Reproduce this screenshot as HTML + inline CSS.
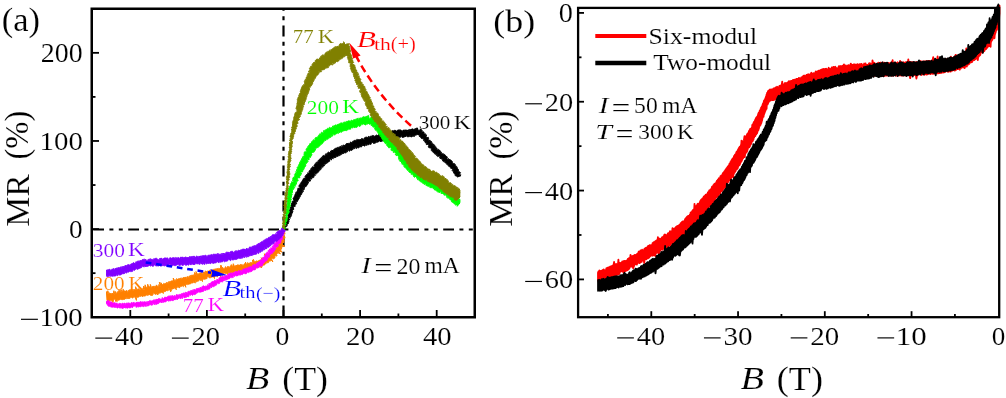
<!DOCTYPE html>
<html><head><meta charset="utf-8"><style>
html,body{margin:0;padding:0;background:#fff;width:1006px;height:398px;overflow:hidden}
svg{display:block;will-change:transform}
</style></head><body>
<svg width="1006" height="398" viewBox="0 0 1006 398">
<line x1="93" y1="229.4" x2="474" y2="229.4" stroke="#000" stroke-width="2" stroke-dasharray="10.8 5.4 4 5.4 4 5.4" stroke-dashoffset="-0.2"/>
<line x1="283.5" y1="10" x2="283.5" y2="316" stroke="#000" stroke-width="2.2" stroke-dasharray="10.8 5.4 4 5.4 4 5.4" stroke-dashoffset="19.4"/>
<defs><clipPath id="cR"><rect x="0" y="0" width="460.3" height="398"/></clipPath><clipPath id="cL"><rect x="106" y="0" width="400" height="398"/></clipPath><clipPath id="cRR"><rect x="597.2" y="0" width="420" height="398"/></clipPath></defs>
<g clip-path="url(#cL)">
<path d="M285.1,229.5 284.2,228.8 285.0,228.8 284.9,228.3 285.9,228.2 284.9,227.2 285.3,226.8 286.3,226.7 286.8,226.3 285.7,225.1 287.5,225.2 286.2,224.0 288.0,224.1 288.4,223.5 288.3,222.8 288.7,222.5 288.9,222.1 289.0,221.6 288.1,220.7 288.8,220.5 287.9,219.7 289.9,219.9 289.1,219.1 288.6,218.4 289.2,218.0 290.5,218.0 289.4,217.0 290.6,216.9 291.2,216.6 290.3,215.6 291.6,215.5 290.9,214.7 291.8,214.4 291.8,213.8 291.9,213.4 292.2,213.0 292.8,212.7 291.2,211.6 292.9,211.7 292.9,211.2 292.4,210.5 292.3,210.0 293.4,209.8 293.5,209.3 294.1,209.0 292.7,208.0 293.5,207.7 293.4,207.1 293.8,206.7 294.7,206.5 295.4,206.2 295.0,205.5 295.4,205.1 295.8,204.7 295.7,204.2 295.8,203.6 296.7,203.5 296.8,203.0 295.7,202.0 296.2,201.6 297.4,201.7 297.0,200.9 298.0,200.8 297.2,199.9 298.5,199.9 298.5,199.4 298.9,199.0 299.2,198.5 298.6,197.7 299.5,197.6 300.0,197.2 299.9,196.6 300.5,196.3 300.3,195.6 300.3,195.1 301.2,195.0 301.4,194.6 301.7,194.1 301.1,193.3 302.1,193.3 301.3,192.4 302.6,192.5 302.6,192.1 303.0,191.6 303.5,191.2 302.1,189.8 303.8,190.1 304.1,189.7 303.5,188.8 304.6,188.9 303.6,187.8 304.0,187.5 304.9,187.5 304.4,186.7 305.1,186.5 306.0,186.5 306.4,186.2 306.4,185.7 307.0,185.4 307.2,184.9 307.5,184.5 306.6,183.3 308.1,183.9 306.9,182.4 308.6,183.0 308.4,182.2 308.0,181.3 308.5,181.1 309.7,181.3 310.3,181.1 310.7,180.8 309.8,179.4 310.5,179.3 310.7,178.7 311.9,179.1 311.3,177.9 311.4,177.3 313.1,178.0 313.5,177.6 313.8,177.2 313.2,176.1 314.3,176.3 313.9,175.3 314.7,175.3 315.5,175.3 314.6,173.9 314.9,173.5 316.4,174.1 315.8,172.9 316.5,172.9 317.5,173.1 317.8,172.7 316.7,171.1 318.5,172.0 318.7,171.6 319.1,171.3 319.3,170.8 318.6,169.5 320.0,170.2 320.5,169.9 320.8,169.6 319.8,167.9 321.0,168.4 321.7,168.3 321.0,167.0 321.2,166.5 322.9,167.3 321.9,165.7 322.9,166.0 323.9,166.2 324.2,165.8 324.6,165.6 323.6,163.9 324.7,164.3 324.4,163.4 325.8,164.2 326.2,163.8 325.6,162.5 326.8,163.2 326.9,162.6 327.6,162.7 328.0,162.4 328.1,161.7 328.8,161.9 329.0,161.5 329.2,161.1 329.8,161.2 329.5,159.9 329.6,159.2 330.3,159.5 330.6,159.1 331.7,160.0 331.2,158.3 331.7,158.2 332.1,157.9 333.2,158.9 333.1,157.7 333.5,157.4 334.1,157.5 334.9,157.8 335.0,157.0 335.9,157.5 335.5,155.8 336.5,156.6 336.6,155.7 337.6,156.4 338.1,156.4 338.2,155.5 338.8,155.4 339.4,155.6 339.9,155.6 339.8,154.1 340.7,154.9 341.2,154.8 341.4,154.2 341.8,153.8 342.2,153.5 343.0,154.0 343.3,153.5 343.8,153.4 343.8,152.0 344.8,153.1 345.4,153.1 345.6,152.4 346.3,152.6 346.1,151.0 346.8,151.4 347.6,151.8 347.7,150.9 348.0,150.3 348.3,149.8 349.4,151.3 349.9,151.0 349.9,149.9 350.4,149.9 351.1,150.4 351.6,150.4 352.1,150.2 352.1,148.8 353.0,149.7 352.9,147.9 353.6,148.4 354.2,148.5 354.8,148.8 354.8,147.2 355.4,147.6 356.3,148.6 356.7,148.5 356.6,146.6 357.4,147.5 358.1,148.0 358.5,147.8 359.0,147.8 359.3,147.3 359.6,146.7 359.9,146.0 360.7,147.1 361.2,146.9 361.7,146.8 361.9,145.6 362.2,144.8 363.0,146.0 363.3,145.2 364.1,145.9 364.6,146.1 365.1,145.9 365.4,145.2 365.8,144.6 366.6,145.5 366.9,144.8 367.4,144.8 367.9,144.6 368.4,144.7 369.0,144.7 369.2,143.6 369.9,144.2 370.5,144.3 371.0,144.4 371.3,143.6 371.6,142.9 372.0,142.2 372.6,142.6 373.1,142.8 373.7,143.6 374.0,142.9 374.6,143.3 375.1,143.2 375.5,143.1 375.9,142.6 376.2,141.6 376.9,142.6 377.4,142.1 377.9,142.1 378.5,141.9 378.8,140.9 379.5,141.0 380.1,141.0 381.0,141.9 381.2,141.0 381.8,141.3 382.0,140.4 382.7,141.2 383.2,140.9 383.7,140.9 384.0,140.3 384.6,140.5 385.0,139.9 385.5,139.8 386.2,140.4 386.3,138.8 387.3,140.2 387.6,139.5 388.1,139.3 388.8,139.6 389.0,138.6 389.8,139.2 390.3,139.1 390.8,139.0 390.9,137.5 391.7,138.7 392.0,137.7 392.7,138.5 393.0,137.6 393.5,137.9 393.8,137.0 394.3,137.3 394.5,136.1 395.0,136.2 395.5,137.1 396.1,137.2 396.6,137.6 397.1,137.3 397.6,137.4 398.1,136.5 398.6,137.5 399.1,137.0 399.6,137.4 400.1,136.8 400.6,137.4 401.1,136.5 401.6,135.6 402.1,137.3 402.5,137.5 403.0,137.5 403.5,137.1 404.0,137.5 404.5,136.2 405.0,136.9 405.5,136.5 406.0,136.8 406.4,135.5 407.2,136.2 407.9,137.2 408.5,136.6 409.1,136.9 409.6,136.0 410.1,135.4 410.9,137.0 411.4,136.9 411.9,136.8 412.2,135.4 413.0,136.7 413.2,135.2 413.9,136.4 414.4,136.4 414.7,135.5 415.4,135.2 416.1,135.0 416.8,134.8 417.4,134.5 418.3,135.0 418.5,134.1 418.9,133.9 419.3,133.9 419.6,134.0 417.4,128.0 416.9,127.8 416.8,128.5 416.2,128.2 416.3,129.8 415.3,128.4 415.3,130.2 414.3,128.8 414.0,130.0 413.4,129.8 412.8,128.8 412.4,128.9 412.0,128.9 411.6,129.0 411.4,130.7 410.8,129.6 410.3,129.5 409.9,130.2 409.3,129.4 408.8,129.5 408.4,131.0 407.9,131.2 407.2,129.9 406.7,131.1 406.0,129.7 405.7,131.4 405.3,130.0 404.9,129.9 404.5,130.2 404.1,129.9 403.6,130.1 403.2,130.1 402.7,130.7 402.2,131.2 401.7,130.5 401.1,131.1 400.6,129.7 400.1,131.3 399.5,129.8 398.9,129.8 398.3,130.1 397.7,130.0 397.1,130.9 396.5,131.1 395.8,131.0 395.1,130.1 394.4,130.3 394.1,131.3 393.5,130.7 392.9,130.5 392.4,130.6 392.1,131.8 391.4,130.9 391.2,132.4 390.6,132.4 390.2,132.9 389.3,131.5 389.0,132.6 388.3,132.1 387.8,132.4 387.5,133.1 386.8,132.7 386.3,133.1 385.6,132.5 385.4,133.7 384.5,132.6 384.0,132.7 383.6,133.5 383.0,133.2 382.9,134.7 382.0,133.1 381.6,133.5 381.3,134.5 380.6,133.5 380.3,134.1 379.8,133.7 379.7,135.3 379.0,134.0 378.5,134.7 378.1,135.3 377.5,135.5 376.9,135.2 376.3,134.9 375.9,135.5 375.4,135.9 375.0,136.0 374.5,136.0 374.1,136.5 373.4,135.5 372.9,135.3 372.5,135.9 371.9,135.5 371.9,137.5 371.0,136.0 370.6,136.2 370.1,136.4 369.9,137.6 369.0,136.3 368.5,136.4 368.2,137.2 367.7,137.5 367.0,137.0 366.6,137.2 365.9,136.9 365.5,137.3 365.0,137.4 364.5,137.8 364.4,139.3 363.9,139.4 363.2,138.8 362.7,139.1 361.9,138.2 361.5,138.8 361.2,139.7 360.5,139.0 360.2,139.9 359.5,139.7 359.0,139.6 358.4,139.7 357.8,139.3 357.5,140.1 356.8,139.5 356.4,139.8 356.2,140.9 355.5,140.2 355.1,140.5 354.5,140.3 354.5,142.0 353.6,140.8 353.2,141.2 352.7,141.3 352.6,142.8 351.9,142.3 351.6,142.9 350.6,141.8 350.6,143.5 349.8,142.9 349.7,144.1 348.8,143.5 348.2,143.2 347.9,143.9 347.1,143.1 346.9,143.9 346.3,143.6 346.0,144.2 345.9,145.3 345.1,144.7 344.7,145.1 344.4,145.8 343.5,144.8 343.4,145.9 343.0,146.5 341.9,145.3 341.8,146.3 341.6,147.2 340.7,146.5 340.0,146.2 339.7,146.8 339.5,147.6 338.7,147.2 338.3,147.5 337.6,147.3 337.4,148.2 336.8,148.0 336.2,148.1 335.7,148.2 335.2,148.4 334.9,149.0 334.3,148.9 333.9,149.4 333.5,149.8 333.2,150.2 333.0,151.0 331.9,150.1 331.9,151.2 331.0,150.7 330.6,151.0 330.6,152.1 330.4,152.9 329.9,153.1 328.7,151.9 328.2,152.3 327.8,152.6 327.6,153.2 326.9,153.2 327.4,155.0 326.0,153.7 325.5,153.9 325.3,154.6 325.5,155.7 324.9,155.8 324.3,155.7 323.3,155.5 322.8,155.9 322.3,156.2 322.3,157.2 321.8,157.5 321.1,157.6 321.5,158.9 320.3,158.4 319.9,158.8 319.9,159.6 319.2,159.7 318.7,159.9 318.3,160.3 318.3,161.0 318.2,161.5 317.6,161.7 317.4,162.2 316.5,162.1 317.5,163.7 315.8,162.8 315.8,163.4 315.3,163.7 314.8,163.9 315.1,164.9 314.4,165.0 313.9,165.2 314.8,166.7 314.3,167.0 313.6,167.0 312.5,166.7 312.3,167.3 311.8,167.5 312.6,168.9 311.1,168.3 310.8,168.7 311.4,169.9 310.4,169.7 310.3,170.3 309.6,170.4 309.2,170.8 309.0,171.3 309.1,172.0 309.2,172.8 309.0,173.3 307.6,172.8 307.7,173.6 308.1,174.6 307.1,174.5 306.4,174.6 306.1,175.1 306.2,175.8 305.3,175.8 305.0,176.3 305.4,177.3 305.8,178.3 304.7,178.1 303.8,178.1 304.5,179.3 303.1,178.9 303.7,180.0 302.6,179.9 302.2,180.2 303.1,181.5 302.0,181.3 302.0,182.0 301.0,182.1 301.4,183.0 300.6,183.1 300.6,183.7 301.5,184.9 299.6,184.4 301.0,185.7 299.1,185.3 298.9,185.7 298.9,186.3 299.9,187.5 299.5,187.8 299.3,188.3 297.8,188.2 298.1,189.0 297.7,189.5 297.7,190.0 297.2,190.2 298.3,191.3 296.9,191.1 297.1,191.8 296.9,192.2 295.8,192.2 296.7,193.3 295.4,193.2 296.6,194.3 295.0,194.1 295.0,194.7 294.9,195.3 294.7,195.8 294.2,196.1 294.4,196.8 293.7,197.1 294.2,197.9 293.4,198.1 293.1,198.5 292.9,199.0 294.0,200.1 293.7,200.6 293.5,201.0 292.7,201.2 292.0,201.5 292.1,202.1 292.3,202.8 291.6,203.1 291.6,203.7 291.1,204.0 292.3,205.0 291.0,205.1 291.0,205.7 291.4,206.4 291.5,207.0 290.1,207.0 290.5,207.7 290.1,208.1 291.3,209.1 289.5,209.0 289.9,209.6 291.0,210.5 289.1,210.4 289.5,211.1 289.7,211.6 288.6,211.7 288.8,212.3 289.5,213.0 288.5,213.2 288.8,214.0 288.4,214.4 288.0,214.8 287.6,215.3 288.0,216.0 288.5,216.7 287.6,216.9 287.7,217.5 287.0,217.8 287.5,218.5 286.6,218.7 287.6,219.6 286.2,219.5 286.5,220.2 285.8,220.4 286.1,221.0 285.6,221.3 285.8,221.8 285.3,222.2 285.3,222.9 285.0,223.5 285.1,224.2 284.4,224.5 285.8,225.8 284.9,226.0 283.7,226.1 283.9,226.8 283.4,227.1 284.3,228.0 283.4,228.0 283.1,228.2 284.2,229.1Z" fill="#000" stroke="#000" stroke-width="1.0" stroke-linejoin="round"/>
<path d="M417.5,132.0 416.3,133.4 417.6,132.7 417.5,133.3 417.6,133.7 417.9,134.1 418.0,134.6 418.9,134.5 419.8,134.4 419.2,135.8 419.3,136.4 420.0,136.6 420.3,137.1 420.9,137.3 420.9,138.0 421.4,138.4 422.0,138.6 422.7,138.7 423.6,138.7 423.5,139.4 423.9,139.7 423.5,140.6 425.1,140.0 424.9,140.9 424.6,141.7 424.9,142.0 425.2,142.4 425.3,142.9 426.7,142.5 426.2,143.5 426.8,143.7 426.3,144.6 427.3,144.5 428.2,144.5 428.5,144.9 428.9,145.2 428.2,146.5 428.9,146.7 428.7,147.6 429.3,147.7 429.9,148.0 430.6,147.9 431.2,148.1 431.2,148.9 431.3,149.4 431.2,150.3 431.5,150.7 432.9,150.1 432.3,151.4 432.9,151.6 433.0,152.3 433.4,152.6 433.8,153.0 434.2,153.4 434.5,153.7 435.8,153.1 435.4,154.4 435.9,154.6 437.4,153.7 436.5,155.5 437.4,155.3 437.3,156.2 437.7,156.6 438.9,156.1 439.6,156.1 439.9,156.5 439.6,157.7 440.3,157.7 440.2,158.7 441.5,157.9 441.4,158.9 441.7,159.3 443.0,158.7 442.6,159.9 442.5,160.8 442.9,161.1 443.3,161.4 443.7,161.8 444.4,161.7 445.6,161.2 444.9,162.7 445.3,163.1 446.1,162.9 446.7,163.1 446.6,163.9 446.8,164.5 447.4,164.6 448.2,164.4 447.9,165.5 448.3,165.8 449.0,165.8 449.0,166.4 449.3,166.8 450.9,165.9 450.1,167.2 450.6,167.3 450.7,167.8 450.7,168.3 452.0,167.9 451.7,168.8 452.2,169.1 453.5,168.8 452.1,170.4 452.4,170.8 453.9,170.5 453.0,171.7 453.5,171.9 453.5,172.5 453.7,172.9 454.2,173.2 454.2,173.7 454.4,174.1 454.8,174.3 455.7,174.2 455.2,175.4 455.5,175.9 456.6,176.1 456.9,176.4 457.1,176.8 457.4,177.0 460.7,175.8 460.0,175.7 461.1,174.9 459.2,175.0 459.4,174.2 460.5,172.8 459.8,172.0 459.5,171.7 459.1,171.4 458.5,171.3 457.7,171.2 458.9,170.0 458.1,169.8 458.1,169.2 457.8,168.7 457.1,168.5 457.4,167.6 456.4,167.5 456.7,166.6 456.4,166.1 454.8,166.5 455.5,165.1 455.3,164.5 454.6,164.4 454.6,163.7 453.9,163.6 453.2,163.6 452.4,163.7 452.6,162.7 452.5,162.1 452.3,161.5 452.0,161.1 451.5,160.8 451.2,160.4 450.8,160.0 450.1,160.0 450.0,159.4 448.8,159.9 448.8,159.1 448.6,158.6 447.2,159.4 446.8,159.0 447.2,157.8 447.3,156.9 446.9,156.5 446.1,156.6 445.9,156.1 445.6,155.6 445.3,155.1 444.7,155.0 444.5,154.4 443.8,154.4 443.6,153.9 443.2,153.5 442.3,153.8 441.8,153.6 441.4,153.2 441.5,152.3 441.2,151.9 440.2,152.2 440.4,151.2 440.2,150.7 439.9,150.4 438.8,150.7 439.1,149.7 438.6,149.4 437.6,149.7 436.7,149.9 437.0,148.9 437.0,148.1 436.1,148.2 435.4,148.3 436.1,146.9 435.4,146.8 434.4,147.2 435.0,145.9 434.8,145.4 434.4,145.1 433.3,145.4 433.8,144.4 432.2,145.2 433.1,143.8 432.4,143.8 432.2,143.3 431.5,143.2 431.9,142.4 431.7,142.0 431.5,141.5 431.1,141.3 430.6,141.0 429.3,141.3 430.1,140.2 428.9,140.4 428.7,139.9 428.1,139.7 428.7,138.5 428.0,138.4 428.4,137.3 426.6,138.0 426.8,137.2 426.2,137.1 426.1,136.4 426.6,135.2 424.8,136.1 425.9,134.3 425.5,133.8 424.6,133.8 423.5,134.0 424.1,132.7 423.9,132.1 423.4,131.8 422.7,131.7 421.3,132.2 422.2,130.7 422.1,130.2 421.3,130.3 421.4,129.6 420.5,130.0 421.0,129.0 419.6,130.0Z" fill="#000" stroke="#000" stroke-width="1.0" stroke-linejoin="round"/>
<path d="M285.1,229.2 285.0,228.9 284.6,228.5 285.5,228.2 285.5,227.7 283.8,226.9 284.5,226.5 285.2,226.0 285.3,225.5 285.7,224.9 285.5,224.3 285.4,223.6 286.5,223.2 285.3,222.3 285.9,222.0 286.0,221.5 286.8,221.3 286.9,220.8 285.9,220.1 287.5,219.9 285.8,219.1 287.0,218.8 287.4,218.4 287.8,217.9 287.5,217.3 287.3,216.7 287.0,216.1 287.6,215.7 287.2,215.0 287.2,214.5 287.9,214.0 287.7,213.4 289.0,213.2 287.8,212.4 289.3,212.2 289.1,211.7 289.3,211.2 288.1,210.5 289.0,210.1 288.8,209.5 288.4,208.9 289.5,208.6 289.9,208.1 289.5,207.5 290.2,207.0 289.6,206.4 290.5,206.0 290.4,205.4 289.1,204.7 290.3,204.4 290.0,203.8 290.3,203.3 289.3,202.6 290.8,202.3 291.1,201.8 289.4,201.0 290.8,200.7 291.1,200.1 291.6,199.6 290.8,199.0 290.9,198.5 290.9,197.9 290.9,197.4 292.0,197.0 291.1,196.3 292.0,195.9 291.5,195.3 292.0,194.9 292.1,194.4 292.3,193.9 291.4,193.2 292.0,192.9 292.6,192.5 291.6,191.9 292.9,191.7 292.1,191.1 293.0,190.8 292.1,190.0 292.2,189.4 293.5,189.4 292.5,188.5 294.1,188.7 293.9,188.1 293.4,187.3 294.7,187.5 293.9,186.5 294.1,186.0 295.5,186.2 294.7,185.2 295.9,185.1 296.0,184.6 295.1,183.5 296.8,183.7 295.6,182.7 296.9,182.7 295.9,181.7 296.7,181.5 297.1,181.2 298.0,181.0 298.2,180.6 297.9,179.9 297.6,179.2 297.5,178.6 297.7,178.1 298.0,177.7 299.7,177.9 299.9,177.3 299.4,176.5 300.1,176.2 300.0,175.6 300.8,175.3 300.7,174.8 301.1,174.4 301.1,173.9 301.7,173.7 300.5,172.5 301.0,172.3 301.7,172.0 302.6,171.9 302.7,171.4 302.8,170.9 302.2,170.1 303.5,170.1 303.8,169.7 302.3,168.4 304.2,168.7 304.3,168.2 304.5,167.7 304.3,167.1 305.1,166.9 305.4,166.4 304.7,165.6 305.9,165.6 305.9,165.0 305.3,164.1 305.5,163.7 306.5,163.6 306.7,163.1 307.1,162.7 307.3,162.2 307.4,161.7 308.2,161.5 308.1,160.9 307.1,159.8 307.5,159.4 309.1,159.6 309.5,159.2 309.0,158.3 308.9,157.7 309.4,157.3 310.6,157.4 310.8,157.0 310.1,155.9 311.4,156.1 310.3,154.9 311.9,155.3 312.1,154.9 311.6,154.1 311.1,153.3 311.8,153.2 312.1,152.9 312.6,152.5 312.8,152.0 314.0,152.2 313.8,151.4 314.5,151.4 314.7,151.0 314.1,150.1 315.1,150.4 315.3,150.1 315.8,150.0 314.6,148.5 315.5,148.7 315.9,148.5 316.3,148.1 317.0,148.1 316.6,146.9 318.2,147.5 317.3,146.1 318.5,146.7 319.0,146.7 319.3,146.4 319.6,146.0 319.4,145.1 320.3,145.4 320.5,144.9 320.6,144.3 321.4,144.4 321.5,143.8 322.2,143.8 322.5,143.3 323.0,143.1 323.1,142.5 323.5,142.1 323.3,141.1 324.2,141.5 324.0,140.4 324.6,140.3 325.4,140.5 326.0,140.4 325.9,139.5 326.0,138.8 327.2,139.6 327.6,139.3 327.1,137.9 328.2,138.8 328.5,138.5 328.4,137.5 329.4,138.1 329.7,137.7 329.8,137.1 330.5,137.4 330.7,136.8 331.3,136.8 330.8,135.1 331.8,136.0 332.4,136.1 332.9,136.0 332.6,134.4 333.0,134.0 333.6,134.4 334.5,135.1 334.6,134.3 335.3,134.7 335.1,133.0 336.0,134.0 336.5,133.8 336.7,133.2 337.3,133.3 337.7,133.0 338.4,133.5 338.6,132.6 338.7,131.6 339.7,132.8 340.0,132.1 340.4,131.8 341.1,132.2 341.6,132.3 341.7,131.0 342.2,130.9 342.9,131.6 343.0,130.2 343.7,131.0 344.0,130.2 344.8,130.9 345.1,130.4 345.7,130.6 346.3,130.7 346.8,130.5 346.9,129.2 347.7,130.2 348.1,129.7 348.3,128.7 349.0,129.1 349.6,129.3 350.0,128.9 350.7,129.2 350.8,128.0 351.3,127.8 351.6,127.1 352.4,128.1 352.9,127.8 353.3,127.5 353.7,126.8 354.3,127.4 355.0,127.9 355.3,126.9 355.8,127.1 356.5,127.4 357.0,127.3 357.2,126.4 357.7,126.4 358.0,125.4 358.5,125.6 359.3,126.6 359.7,126.4 360.1,125.8 360.6,126.0 360.9,125.2 361.3,124.5 361.8,124.1 362.5,124.6 363.0,124.2 363.6,123.9 364.2,124.1 365.1,125.0 365.7,124.9 366.2,124.7 366.5,123.6 367.2,124.1 367.8,124.1 368.0,123.1 368.8,124.0 369.0,123.0 369.5,123.6 369.8,123.1 370.3,123.7 370.3,122.4 368.4,115.4 368.2,115.5 367.9,115.6 367.6,116.2 367.2,116.0 367.1,117.4 366.3,116.3 365.8,116.5 365.4,117.0 364.8,116.9 364.2,117.0 363.5,116.7 362.9,116.8 362.5,117.4 361.9,117.5 361.6,119.0 360.6,117.7 360.3,118.6 359.6,118.4 358.9,117.9 358.8,119.5 358.4,119.8 357.5,118.3 357.1,118.6 356.8,119.3 356.1,118.7 356.1,120.5 355.2,119.3 354.7,119.5 354.3,119.7 353.7,119.7 353.3,119.9 352.9,120.7 352.4,120.7 351.7,120.3 351.2,120.1 351.1,121.9 350.3,120.9 349.7,120.7 349.6,122.0 348.6,120.7 348.1,120.9 347.8,121.6 347.1,121.2 346.6,121.3 346.5,122.4 346.0,122.6 345.2,121.7 345.0,122.8 344.2,121.9 343.7,122.2 343.6,123.6 343.0,123.5 342.3,122.8 341.7,122.9 341.2,122.9 340.6,123.0 340.2,123.4 339.7,123.5 339.2,124.0 338.9,124.6 338.0,123.9 337.6,124.4 337.1,124.8 336.8,125.4 335.9,124.7 335.4,124.9 335.5,126.5 334.8,125.9 334.1,125.4 333.9,126.4 333.2,126.0 332.6,126.0 332.5,127.0 332.1,127.4 331.7,127.7 331.1,127.6 330.7,128.0 329.8,127.4 329.2,127.4 329.4,129.1 328.6,128.7 327.7,128.2 327.4,128.7 327.0,129.3 326.4,129.4 325.8,129.5 325.6,130.4 324.8,130.1 324.9,131.4 323.6,130.6 323.4,131.2 323.6,132.4 323.3,132.8 322.5,132.7 321.5,132.3 321.1,132.7 321.7,134.4 320.8,134.1 319.8,133.7 320.5,135.4 319.1,134.6 319.1,135.6 318.4,135.6 318.5,136.6 317.7,136.5 318.1,137.8 317.2,137.6 316.2,137.3 315.8,137.7 315.2,137.8 314.9,138.3 315.4,139.6 314.8,139.6 315.0,140.6 313.4,139.7 313.5,140.4 312.8,140.4 313.1,141.3 312.5,141.3 312.6,142.0 311.3,141.8 311.5,142.8 310.8,143.1 310.9,143.9 309.7,143.7 309.6,144.3 309.4,144.8 309.0,145.1 308.6,145.5 308.4,146.0 308.4,146.6 307.6,146.7 308.4,147.9 307.2,147.7 308.2,149.0 306.4,148.6 306.5,149.4 305.9,149.5 306.2,150.3 306.6,151.1 306.4,151.5 306.1,152.0 304.7,151.7 304.4,152.2 304.2,152.6 304.0,153.1 304.3,153.9 304.0,154.4 304.0,155.0 304.4,155.8 303.9,156.2 302.9,156.3 303.4,157.2 302.3,157.2 303.1,158.3 301.9,158.2 302.2,159.0 301.2,159.1 301.7,160.0 301.5,160.5 300.7,160.6 300.9,161.3 300.2,161.6 300.4,162.2 299.6,162.4 299.6,163.0 299.6,163.6 299.0,163.9 298.9,164.4 299.2,165.2 298.4,165.4 298.4,166.0 299.1,166.9 297.6,166.8 297.4,167.2 297.1,167.7 297.4,168.4 297.2,168.9 296.7,169.2 297.7,170.2 296.2,170.0 297.1,171.0 296.9,171.5 296.8,171.9 295.5,171.8 296.3,172.7 296.4,173.3 295.0,173.3 296.2,174.5 294.9,174.5 294.3,174.8 295.0,175.7 294.4,176.1 295.0,176.9 294.2,177.2 293.2,177.3 293.1,177.8 292.8,178.2 292.8,178.8 292.9,179.4 293.5,180.2 292.2,180.1 293.6,181.2 293.5,181.7 293.2,182.1 291.4,181.8 291.5,182.5 291.3,182.9 290.9,183.3 290.7,183.8 290.6,184.2 290.9,185.0 290.1,185.1 291.0,186.1 289.6,186.0 289.3,186.5 289.5,187.2 289.7,187.9 288.7,188.2 288.8,188.9 288.5,189.4 288.2,190.0 288.4,190.6 288.0,191.1 287.9,191.6 288.8,192.3 287.7,192.6 287.9,193.2 288.2,193.8 287.6,194.2 287.6,194.8 287.7,195.3 289.1,196.1 287.2,196.4 288.2,197.0 287.4,197.5 287.5,198.1 287.0,198.5 287.7,199.2 287.6,199.7 286.9,200.1 287.3,200.7 286.9,201.2 287.7,201.8 287.1,202.3 287.3,202.8 287.2,203.3 286.9,203.8 286.6,204.3 288.1,205.1 287.7,205.6 286.2,205.9 286.4,206.5 286.0,206.9 285.9,207.5 287.8,208.3 287.7,208.8 285.9,209.1 285.7,209.5 285.6,210.1 286.7,210.8 285.5,211.1 286.7,211.8 287.3,212.4 285.3,212.5 285.8,213.1 285.2,213.5 285.6,214.2 286.7,215.0 284.9,215.1 286.7,216.1 286.3,216.5 286.1,217.0 285.1,217.3 284.6,217.8 284.4,218.2 284.5,218.8 284.2,219.2 284.0,219.7 285.6,220.5 285.1,220.9 285.4,221.4 285.2,221.8 284.0,222.1 283.5,222.6 284.1,223.4 283.3,223.9 284.3,224.7 284.6,225.4 283.1,225.7 283.5,226.3 283.4,226.9 283.0,227.3 284.2,228.0 282.8,228.1 283.5,228.6 283.4,228.9Z" fill="#00ff00" stroke="#00ff00" stroke-width="1.0" stroke-linejoin="round"/>
<g clip-path="url(#cR)"><path d="M367.2,122.6 367.6,122.7 367.7,123.1 369.0,122.0 369.1,122.7 369.1,123.4 369.2,124.1 369.6,124.4 370.9,123.7 371.2,124.2 371.0,125.4 372.0,125.2 372.6,125.1 372.3,125.9 372.5,126.4 372.7,126.7 374.0,126.2 373.5,127.3 374.6,126.9 374.9,127.4 374.5,128.5 375.0,128.7 374.9,129.5 376.1,129.1 375.5,130.3 376.0,130.6 376.5,130.8 378.0,130.1 377.1,131.6 377.7,131.6 377.6,132.3 377.8,132.7 379.3,132.3 378.2,133.6 379.4,133.3 378.8,134.3 379.1,134.7 379.3,135.2 380.9,134.7 380.7,135.4 380.1,136.4 381.9,135.8 380.9,137.1 381.6,137.3 381.4,138.1 381.9,138.5 382.2,139.0 382.4,139.5 382.6,140.1 383.9,139.7 383.3,140.8 385.0,140.1 383.8,141.6 384.1,142.1 385.1,141.9 384.7,142.9 385.1,143.2 385.3,143.7 386.6,143.4 387.5,143.4 386.4,144.9 386.7,145.4 387.1,145.8 388.4,145.4 387.7,146.7 388.2,147.1 388.6,147.5 388.8,148.0 390.4,147.3 391.0,147.5 391.1,148.1 391.2,148.7 391.0,149.6 391.0,150.3 392.5,149.6 391.9,150.9 393.0,150.6 393.4,150.9 393.4,151.6 393.3,152.5 394.8,151.7 395.2,152.0 394.8,153.0 395.7,152.9 396.3,153.1 395.2,154.7 396.1,154.6 396.6,154.7 396.2,155.7 397.7,155.1 397.8,155.6 397.9,156.1 398.4,156.3 398.7,156.7 398.4,157.5 399.3,157.5 398.6,158.5 398.5,159.2 399.3,159.2 400.3,159.2 399.3,160.4 400.6,160.3 399.9,161.4 401.3,161.0 401.0,161.9 401.8,162.0 401.2,163.1 403.0,162.6 401.8,164.1 403.4,163.6 402.8,164.8 403.8,164.8 404.4,164.9 403.7,166.2 404.2,166.5 404.3,167.1 404.6,167.4 405.3,167.6 405.7,167.9 406.3,168.0 406.1,168.9 406.7,169.1 407.0,169.5 407.1,170.1 407.6,170.4 409.2,169.7 408.8,170.8 408.6,171.6 409.2,171.9 409.4,172.4 410.5,172.0 410.3,173.0 411.2,172.8 411.4,173.4 411.2,174.4 412.4,173.8 413.0,173.9 412.8,175.0 413.2,175.3 413.4,176.0 413.6,176.5 414.1,176.8 414.4,177.3 416.0,176.2 416.1,177.0 416.8,176.9 416.6,178.2 417.0,178.5 417.7,178.5 417.5,179.7 418.4,179.3 418.8,179.8 418.9,180.5 419.4,180.7 420.5,180.0 420.1,181.4 420.6,181.7 422.0,180.6 421.4,182.2 422.4,181.6 422.2,182.7 422.4,183.2 423.3,182.7 423.5,183.7 424.3,183.6 424.4,184.6 425.9,183.2 425.8,184.5 425.9,185.4 426.5,185.6 427.6,184.5 427.3,186.1 427.8,186.2 428.2,186.5 429.0,185.9 429.8,185.3 429.6,186.7 429.8,187.4 430.3,187.4 430.6,187.8 431.1,187.9 431.9,187.4 432.3,187.8 433.0,187.4 433.0,188.5 433.7,188.4 433.8,189.1 434.7,188.5 434.5,190.0 435.7,189.0 435.5,190.3 436.5,189.5 436.4,190.8 436.7,191.3 437.1,191.6 437.6,191.8 438.7,190.8 438.5,192.2 439.2,192.2 439.5,192.8 440.8,191.4 441.2,191.9 440.9,193.3 441.9,192.6 441.7,194.0 442.9,192.8 442.9,193.8 443.3,194.1 443.7,194.3 444.5,194.0 444.2,195.3 444.9,195.0 445.7,194.8 446.2,194.9 446.1,195.8 446.3,196.2 447.5,195.5 446.6,197.3 447.3,197.3 447.8,197.5 447.8,198.3 449.0,197.8 449.2,198.4 450.3,198.1 449.7,199.5 450.7,199.2 450.7,200.0 451.2,200.2 451.2,201.0 451.4,201.5 452.4,201.2 452.1,202.3 452.8,202.1 453.1,202.9 454.2,202.8 454.1,203.9 455.3,203.5 455.2,204.5 455.5,205.2 457.0,204.1 457.0,204.9 457.1,205.4 457.0,206.1 457.2,206.3 461.6,201.0 461.2,201.0 460.5,201.2 460.9,200.1 460.7,199.7 459.4,200.4 459.9,198.9 458.9,199.2 458.5,198.8 457.7,198.7 456.9,198.6 457.6,196.7 457.2,196.7 456.2,197.1 455.6,197.0 456.4,195.6 456.0,195.2 455.7,194.8 454.7,195.0 454.9,194.1 453.5,194.7 454.0,193.3 452.5,194.1 453.2,192.5 452.6,192.2 451.9,192.1 451.2,192.1 451.2,191.1 450.6,190.9 449.8,190.9 449.0,191.0 448.5,190.7 448.8,189.2 447.6,190.1 447.5,189.1 447.4,188.2 446.9,187.8 445.6,188.9 445.9,187.4 445.1,187.7 444.7,187.4 443.9,187.8 443.3,187.8 443.2,186.9 442.6,187.0 442.3,186.5 442.1,185.9 441.3,186.3 441.5,184.9 440.2,186.2 439.9,185.7 440.1,184.4 439.7,184.0 438.9,184.4 438.8,183.5 438.4,183.1 437.8,183.2 437.6,182.6 436.8,182.9 436.2,182.9 435.7,182.7 434.9,183.1 434.8,182.2 434.1,182.4 433.5,182.5 434.0,180.6 433.5,180.3 433.0,180.1 432.5,179.9 431.9,180.1 431.2,180.5 430.5,180.8 430.9,179.1 430.0,179.9 429.3,180.1 429.7,178.5 429.2,178.3 428.1,179.4 427.6,179.3 428.1,177.5 426.7,178.7 426.8,177.5 426.6,177.1 426.5,176.4 426.1,176.3 425.6,176.2 424.5,177.0 424.6,176.0 424.6,175.2 423.7,175.6 423.5,175.1 422.5,175.6 422.3,175.1 422.0,174.5 421.8,174.0 420.8,174.5 420.4,174.1 420.8,172.8 420.7,172.1 419.5,172.8 419.1,172.5 419.5,171.1 419.0,171.0 418.2,171.1 417.3,171.5 418.0,169.9 417.5,169.7 417.2,169.4 417.0,168.9 416.6,168.6 416.3,168.3 415.8,168.1 415.6,167.6 414.7,167.8 413.9,168.0 413.4,167.7 413.0,167.4 413.4,166.4 413.0,166.0 412.4,165.9 411.8,165.8 412.5,164.4 411.5,164.7 411.4,164.1 411.6,163.3 410.0,164.1 410.7,162.8 410.6,162.3 409.1,162.9 409.0,162.4 408.6,162.1 409.3,160.9 409.1,160.5 407.6,161.0 408.1,160.0 407.6,159.8 407.9,159.0 407.3,158.8 407.2,158.3 406.9,157.9 406.8,157.4 405.4,157.7 405.8,156.8 405.8,156.3 405.1,156.1 405.1,155.5 405.2,154.8 404.4,154.7 403.6,154.6 404.1,153.6 403.9,153.1 403.2,152.9 402.4,152.9 403.0,151.7 402.7,151.2 402.3,150.8 400.6,151.4 401.1,150.3 401.1,149.5 400.1,149.6 400.4,148.6 400.0,148.2 398.3,149.1 399.3,147.4 397.7,148.2 397.9,147.3 397.8,146.6 397.2,146.4 396.8,146.1 395.9,146.3 395.6,145.8 396.4,144.4 395.2,144.8 395.1,144.3 395.2,143.6 394.6,143.5 394.8,142.7 393.4,143.4 394.1,142.1 393.8,141.7 393.1,141.5 392.0,141.8 392.6,140.6 392.3,140.2 391.9,139.9 391.7,139.4 391.2,139.2 389.8,139.7 390.7,138.4 390.7,137.7 390.4,137.3 390.2,136.9 389.6,136.7 389.6,136.1 389.1,135.9 389.0,135.4 388.7,135.0 386.9,135.6 388.1,134.2 387.8,133.8 386.5,134.1 385.9,133.9 386.1,133.2 386.7,132.2 385.0,132.7 384.7,132.2 385.1,131.3 385.3,130.6 385.2,130.0 384.4,129.8 384.6,129.0 384.3,128.5 383.5,128.4 382.8,128.2 383.2,127.2 382.9,126.7 382.5,126.3 382.0,126.0 381.4,125.8 380.9,125.5 381.1,124.6 380.6,124.3 380.1,124.0 379.7,123.6 378.5,123.9 378.7,123.0 378.7,122.3 377.4,122.8 378.1,121.4 377.7,121.1 376.8,121.4 377.1,120.4 375.7,121.1 375.6,120.1 375.5,119.1 374.2,119.6 373.4,119.5 373.9,117.8 373.4,117.5 373.0,117.2 371.9,117.9 372.1,116.9 372.0,116.5 371.8,116.3Z" fill="#00ff00" stroke="#00ff00" stroke-width="1.0" stroke-linejoin="round"/></g>
<path d="M284.3,229.0 283.8,228.7 284.0,228.4 285.1,227.9 283.3,227.5 283.4,227.0 284.6,226.5 284.5,225.9 285.1,225.3 284.9,224.8 283.9,224.1 283.8,223.5 284.4,222.9 285.1,222.4 285.1,221.9 283.3,221.4 285.1,221.0 284.7,220.6 285.2,220.1 284.4,219.6 283.8,219.1 285.2,218.7 285.4,218.2 285.3,217.7 285.5,217.2 285.4,216.7 284.3,216.0 285.5,215.6 284.8,215.0 283.9,214.4 284.7,213.9 285.9,213.4 285.7,212.9 286.0,212.5 286.0,212.0 286.0,211.5 284.4,210.9 285.9,210.5 285.7,209.9 286.2,209.5 285.0,208.9 286.3,208.4 286.4,207.9 285.7,207.3 286.3,206.8 286.0,206.3 286.4,205.8 286.6,205.3 285.7,204.7 286.7,204.2 284.9,203.5 286.5,203.1 286.2,202.6 286.5,202.1 287.0,201.6 287.0,201.1 285.7,200.4 286.1,199.9 286.4,199.4 287.2,199.0 287.3,198.4 287.2,197.9 285.4,197.1 285.6,196.6 287.1,196.2 287.1,195.7 287.3,195.2 287.4,194.7 285.9,194.0 287.3,193.6 287.8,193.2 286.7,192.6 287.7,192.2 286.8,191.6 287.2,191.2 287.8,190.8 288.0,190.3 287.0,189.6 288.1,189.3 287.5,188.8 288.4,188.5 288.3,188.2 288.1,187.8 287.7,187.3 288.4,187.0 287.6,186.4 288.5,186.0 287.3,185.3 287.0,184.6 288.4,184.0 289.0,183.1 287.3,182.6 288.2,182.3 288.1,181.9 288.0,181.5 288.3,181.1 288.5,180.7 288.5,180.3 289.3,179.9 289.0,179.4 289.3,179.0 288.7,178.4 289.1,178.0 289.6,177.5 289.4,177.0 289.6,176.5 289.3,176.0 289.0,175.4 289.7,174.9 289.8,174.4 289.7,173.8 289.9,173.3 289.7,172.7 289.3,172.2 289.5,171.6 289.4,171.0 288.8,170.4 288.9,169.9 290.0,169.4 289.6,168.8 288.5,168.1 289.7,167.7 288.9,167.0 290.5,166.6 289.8,166.0 289.8,165.4 290.4,164.9 290.6,164.4 288.9,163.7 289.0,163.1 290.1,162.7 289.0,162.1 290.6,161.7 289.0,161.1 290.9,160.8 291.0,160.3 290.7,159.7 289.9,159.1 291.2,158.7 291.1,158.1 290.1,157.5 291.2,157.1 289.5,156.4 290.7,155.9 290.7,155.3 290.4,154.8 290.4,154.2 291.1,153.7 291.5,153.2 291.3,152.6 290.7,152.0 291.8,151.6 291.5,151.0 290.4,150.3 292.0,149.9 291.7,149.4 291.1,148.8 291.7,148.3 291.9,147.8 290.8,147.1 292.1,146.8 292.3,146.3 291.4,145.7 292.3,145.3 290.9,144.6 292.1,144.3 292.1,143.8 292.6,143.4 291.4,142.8 292.6,142.5 291.6,142.0 292.8,141.7 291.0,141.1 292.0,140.8 291.6,140.4 292.2,140.1 292.2,139.3 293.1,138.7 293.4,138.0 293.2,137.4 292.9,136.7 293.8,136.4 294.0,135.9 293.5,135.4 292.7,134.8 294.0,134.7 293.8,134.2 292.9,133.6 294.8,133.7 294.9,133.3 294.6,132.8 294.6,132.3 295.2,132.0 295.4,131.5 295.1,130.9 295.7,130.5 294.9,129.8 295.1,129.4 296.3,129.1 296.4,128.6 295.9,128.0 295.2,127.4 296.7,127.2 297.0,126.8 297.2,126.3 295.6,125.4 297.4,125.3 295.9,124.4 296.6,124.0 297.3,123.7 298.1,123.4 297.7,122.7 298.2,122.4 297.3,121.6 297.6,121.2 297.6,120.7 298.4,120.5 298.2,119.9 299.4,119.8 299.5,119.3 298.2,118.3 298.8,118.0 299.6,117.7 299.5,117.1 300.0,116.7 300.5,116.3 300.4,115.8 299.4,114.9 300.9,114.8 301.2,114.3 301.3,113.8 301.5,113.3 301.4,112.7 300.9,112.0 301.6,111.7 302.2,111.3 302.2,110.7 301.5,110.0 302.7,109.7 302.8,109.2 302.8,108.6 303.0,108.1 303.0,107.5 302.6,106.8 303.7,106.6 303.1,105.8 303.3,105.4 302.4,104.6 304.4,104.6 304.3,104.0 304.2,103.5 304.4,103.1 305.0,102.8 303.6,102.0 303.6,101.6 305.3,101.6 305.3,100.9 305.7,100.3 305.8,99.8 306.1,99.3 306.2,98.9 306.1,98.4 306.5,98.1 306.6,97.7 305.2,96.8 305.5,96.4 307.1,96.4 306.8,95.8 307.2,95.5 306.6,94.7 307.6,94.6 306.7,93.7 308.1,93.8 308.3,93.3 307.3,92.3 308.7,92.4 308.8,91.9 308.8,91.3 309.2,90.9 308.6,90.1 309.6,90.0 309.6,89.5 309.8,89.0 309.3,88.2 309.0,87.6 309.6,87.3 310.5,87.2 310.3,86.5 310.4,86.0 311.4,85.9 311.5,85.4 312.0,85.1 312.1,84.6 312.3,84.2 311.6,83.3 312.9,83.4 313.1,83.0 312.1,81.9 313.0,81.7 313.6,81.4 314.0,81.0 313.9,80.2 313.9,79.5 314.6,79.3 314.5,78.7 314.1,77.9 315.9,78.1 314.7,77.0 316.2,77.0 315.7,76.3 316.5,76.1 316.7,75.6 316.4,74.9 317.8,75.1 318.1,74.7 317.9,74.2 318.3,74.0 318.7,73.8 318.5,73.3 318.4,72.7 319.4,73.0 318.4,71.6 319.1,71.6 320.3,72.1 319.9,71.1 321.2,71.8 321.6,71.5 320.8,70.1 321.4,70.1 322.0,70.0 322.5,69.9 323.2,70.0 323.4,69.6 324.1,69.8 324.3,69.5 324.6,69.3 324.8,68.9 325.2,68.8 325.0,67.8 325.6,67.9 326.2,68.1 326.7,68.1 326.9,67.4 327.7,67.8 328.3,67.7 328.5,66.8 328.8,66.3 328.9,65.4 329.7,65.7 330.1,65.3 330.2,64.5 331.1,64.9 331.5,64.6 332.5,65.1 332.1,63.6 332.4,63.1 333.7,64.1 334.2,63.9 334.4,63.1 334.4,62.2 335.5,63.0 335.6,62.2 336.0,61.8 336.1,61.0 337.3,61.9 337.4,61.1 338.2,61.4 338.0,60.2 339.1,60.8 338.7,59.4 339.3,59.4 340.2,59.6 339.9,58.3 341.1,59.2 340.6,57.4 342.1,58.6 342.2,57.8 343.0,57.9 343.1,57.1 343.4,56.6 344.3,57.0 344.0,55.6 345.0,56.3 345.0,55.5 345.7,55.9 345.4,54.6 346.5,55.5 347.0,55.2 347.4,55.0 347.9,54.8 347.9,53.7 348.2,53.3 348.4,52.7 349.2,53.4 349.8,53.9 343.6,41.7 344.2,43.5 343.8,43.6 343.1,43.1 342.7,43.6 342.1,43.8 341.4,43.8 340.4,43.5 339.8,43.9 339.4,44.6 339.1,45.3 339.1,46.2 338.5,46.3 338.2,46.9 337.0,46.1 336.8,46.8 336.2,47.0 335.3,46.6 335.2,47.5 334.4,47.2 333.9,47.5 333.9,48.3 333.1,48.1 332.9,48.7 332.3,48.8 332.6,50.1 331.6,49.6 330.9,49.4 330.8,50.2 330.8,51.2 329.6,50.2 329.1,50.5 328.8,50.9 328.5,51.4 327.8,51.2 327.7,52.1 327.8,53.1 326.5,52.1 326.1,52.3 326.0,53.1 325.3,53.0 325.1,53.7 324.8,54.2 324.7,55.0 324.4,55.5 323.6,55.2 322.7,54.7 322.3,55.1 322.0,55.4 322.1,56.5 321.3,56.0 320.8,56.1 320.7,56.8 320.4,57.2 320.2,58.0 319.5,58.0 319.5,59.0 319.1,59.6 318.1,59.2 317.1,59.1 316.4,59.3 316.1,60.0 315.9,60.7 315.1,60.6 315.5,62.0 315.3,62.6 314.0,62.1 313.5,62.5 313.8,63.7 312.7,63.5 312.6,64.3 311.9,64.5 312.1,65.5 312.2,66.5 310.8,66.2 310.4,66.8 310.2,67.5 309.7,68.0 309.4,68.7 310.4,70.0 309.4,70.2 310.3,71.3 308.6,71.2 308.1,71.6 309.6,73.0 309.4,73.5 307.9,73.4 307.8,74.0 307.5,74.4 308.3,75.3 307.4,75.4 306.9,75.6 306.8,76.0 307.8,77.1 306.3,77.0 306.3,77.6 305.9,78.1 307.2,79.3 305.6,79.1 305.2,79.4 305.5,80.2 304.7,80.4 305.3,81.3 304.3,81.4 304.1,81.9 305.0,82.9 304.5,83.3 305.0,84.1 304.4,84.4 303.5,84.6 303.5,85.1 303.1,85.5 302.5,85.8 302.1,86.2 302.0,86.7 301.7,87.2 301.5,87.6 301.9,88.4 301.1,88.6 300.9,89.1 300.9,89.6 301.6,90.5 300.4,90.6 300.2,91.1 300.2,91.7 301.2,92.6 300.2,92.8 299.9,93.3 299.6,93.8 299.0,94.1 299.4,94.8 299.2,95.2 298.6,95.6 298.9,96.1 298.7,96.6 299.8,97.5 297.9,97.5 298.0,98.2 297.5,98.8 297.3,99.5 297.3,99.9 297.7,100.5 297.2,100.8 297.3,101.3 298.9,102.2 296.9,102.2 298.0,103.0 296.8,103.3 297.1,103.9 298.3,104.7 296.6,104.9 297.4,105.6 296.5,105.9 296.5,106.5 298.0,107.4 296.1,107.5 296.0,108.1 296.0,108.6 296.7,109.3 296.6,109.8 297.4,110.6 296.5,110.8 297.2,111.5 297.0,112.0 295.7,112.2 295.3,112.6 295.1,113.1 294.9,113.5 295.0,114.1 294.6,114.5 294.4,115.0 294.6,115.6 295.6,116.4 294.0,116.5 294.3,117.1 293.7,117.4 293.6,117.9 293.7,118.5 293.9,119.1 293.6,119.5 293.4,120.0 293.7,120.6 292.8,120.8 292.8,121.4 292.7,121.9 292.6,122.5 292.3,122.9 293.1,123.7 292.1,124.0 292.9,124.7 292.0,125.0 292.9,125.8 293.0,126.3 292.2,126.6 291.7,127.0 291.6,127.5 292.3,128.2 292.2,128.7 291.4,129.0 291.5,129.5 291.2,130.0 292.2,130.7 291.6,131.1 291.7,131.6 292.5,132.2 291.6,132.4 291.6,132.8 290.9,133.0 291.0,133.4 290.6,133.8 290.4,134.1 291.3,134.9 290.2,135.1 290.4,135.6 290.0,136.1 290.0,136.8 290.6,137.5 291.4,138.4 289.7,138.9 291.4,140.0 289.6,140.1 289.5,140.5 291.4,141.1 290.4,141.4 290.2,141.8 290.6,142.3 289.3,142.6 289.9,143.1 289.4,143.5 289.7,144.0 289.1,144.5 290.2,145.1 289.3,145.5 290.3,146.1 290.3,146.6 288.9,147.0 289.1,147.5 290.4,148.2 289.5,148.6 289.3,149.1 289.8,149.7 289.2,150.2 290.2,150.9 288.6,151.3 289.1,151.9 288.6,152.4 288.9,153.0 288.5,153.5 288.4,154.0 288.2,154.6 288.9,155.2 288.6,155.7 288.2,156.2 288.1,156.8 288.1,157.3 289.7,158.0 288.5,158.4 289.2,159.0 288.0,159.5 288.5,160.0 288.2,160.5 288.2,161.0 287.8,161.5 288.1,162.0 287.7,162.5 289.2,163.1 287.8,163.6 287.6,164.1 287.7,164.7 288.9,165.3 287.3,165.8 287.9,166.4 287.2,166.9 287.4,167.5 289.0,168.2 287.7,168.6 287.1,169.2 287.8,169.8 287.3,170.3 288.7,171.0 287.1,171.4 286.8,172.0 286.8,172.5 288.1,173.2 287.0,173.6 287.0,174.2 288.2,174.8 287.3,175.3 286.8,175.8 286.5,176.2 286.5,176.8 286.4,177.3 286.5,177.8 286.3,178.2 287.2,178.8 287.1,179.3 286.3,179.6 287.2,180.2 287.3,180.6 286.5,181.0 286.8,181.4 286.1,181.8 287.0,182.2 286.4,182.5 287.4,183.0 286.4,183.8 287.6,184.7 286.7,185.2 287.1,185.9 287.0,186.4 286.4,186.7 286.8,187.2 286.8,187.6 286.3,187.9 286.0,188.2 286.0,188.6 287.1,189.2 286.2,189.5 285.6,190.0 286.1,190.6 286.2,191.1 286.0,191.5 286.2,192.0 286.4,192.5 285.0,192.9 285.1,193.4 285.6,194.0 286.7,194.6 284.7,194.9 284.8,195.5 285.6,196.1 284.9,196.6 285.9,197.2 284.8,197.6 285.8,198.3 284.7,198.7 285.5,199.3 286.0,199.9 284.2,200.3 284.6,200.9 285.8,201.5 284.4,201.9 285.4,202.5 284.1,202.9 284.5,203.5 283.9,204.0 285.8,204.7 283.8,205.0 283.8,205.6 283.9,206.1 285.3,206.8 285.3,207.3 283.8,207.7 285.3,208.4 284.9,208.8 284.5,209.3 284.6,209.9 283.6,210.3 285.1,210.9 284.4,211.4 285.0,211.9 283.2,212.2 283.8,212.8 284.3,213.3 284.5,213.9 283.0,214.3 283.0,214.8 283.4,215.4 283.3,216.0 283.0,216.5 283.7,217.0 283.5,217.5 282.7,218.0 282.7,218.5 282.8,219.0 284.5,219.6 284.3,220.1 283.5,220.5 284.4,221.0 284.0,221.4 282.6,221.8 284.0,222.3 282.5,222.9 282.5,223.5 282.5,224.1 284.1,224.8 282.5,225.4 283.1,225.9 282.6,226.5 282.5,227.0 283.3,227.5 282.9,228.0 284.2,228.4 284.3,228.7 283.7,229.0Z" fill="#808000" stroke="#808000" stroke-width="1.0" stroke-linejoin="round"/>
<g clip-path="url(#cR)"><path d="M346.0,44.2 345.3,44.7 344.9,45.1 345.4,45.5 345.4,46.0 345.4,46.5 346.4,46.9 346.0,47.6 345.6,48.3 346.9,48.6 347.0,49.2 347.3,49.7 345.9,50.4 347.3,50.7 346.1,51.4 346.9,51.8 348.0,52.1 346.3,52.8 346.6,53.3 348.0,53.6 347.3,54.3 347.8,54.7 346.7,55.5 347.5,55.9 347.6,56.5 348.6,56.8 347.3,57.7 347.6,58.2 348.0,58.7 347.8,59.3 348.8,59.5 349.2,60.0 348.4,60.7 349.0,61.1 348.7,61.7 348.6,62.3 348.7,62.8 349.9,63.0 350.8,63.3 351.0,63.8 350.1,64.6 349.8,65.2 350.8,65.5 350.1,66.3 350.2,66.8 351.1,67.1 350.7,67.8 350.4,68.5 350.6,69.0 351.0,69.5 351.3,70.0 351.2,70.6 352.7,70.6 351.6,71.7 352.1,72.0 352.2,72.6 353.3,72.7 353.2,73.3 354.1,73.4 353.4,74.3 353.3,74.9 354.3,74.9 353.5,75.8 353.9,76.1 353.7,76.7 353.8,77.1 354.2,77.4 355.4,77.5 354.2,78.4 355.0,78.6 355.6,79.0 355.1,79.8 354.9,80.5 355.1,81.1 355.9,81.3 356.2,81.8 355.7,82.6 356.2,82.9 356.8,83.2 356.3,84.0 356.5,84.5 358.2,84.2 358.4,84.8 358.0,85.5 357.4,86.4 359.0,86.2 358.9,86.9 358.1,87.9 358.2,88.3 360.1,88.0 360.1,88.5 360.1,89.1 360.6,89.4 360.7,90.0 359.3,91.1 360.2,91.3 359.7,92.1 360.1,92.5 361.9,92.3 362.0,92.9 360.7,94.0 361.7,94.1 361.5,94.8 361.6,95.3 361.4,96.1 361.7,96.6 362.0,97.1 362.2,97.6 362.7,97.9 362.8,98.4 364.3,98.0 363.2,99.2 363.4,99.5 364.6,99.4 363.8,100.4 364.3,100.9 364.5,101.4 364.9,101.6 365.5,101.8 365.9,102.0 365.6,102.6 365.0,103.3 365.4,103.6 365.3,104.2 365.5,104.6 365.6,105.1 365.8,105.6 367.1,105.7 366.8,106.4 366.5,107.0 367.5,107.3 366.8,108.1 367.0,108.7 369.0,108.5 369.0,109.1 368.5,110.0 368.7,110.5 368.5,111.3 369.8,111.3 369.8,111.9 369.6,112.7 370.3,112.9 371.2,113.0 370.6,114.0 370.1,114.9 370.3,115.3 370.6,115.8 370.9,116.2 372.7,115.7 372.6,116.4 371.8,117.6 372.0,118.0 373.5,117.7 373.2,118.5 373.0,119.3 373.3,119.7 373.8,120.0 374.4,120.3 374.5,120.8 374.5,121.5 374.9,121.9 376.2,121.6 376.9,121.7 376.1,122.9 376.6,123.2 377.5,123.1 377.4,123.9 377.3,124.6 378.5,124.3 378.9,124.7 379.0,125.2 378.3,126.5 378.7,126.8 379.0,127.2 379.3,127.7 380.0,127.8 381.1,127.6 380.3,128.9 381.7,128.5 381.1,129.6 381.5,130.0 381.7,130.5 383.2,130.0 382.6,131.2 383.0,131.6 382.7,132.5 383.0,132.9 384.1,132.7 384.1,133.4 384.7,133.6 384.4,134.6 385.4,134.4 385.2,135.2 386.1,135.1 385.7,136.1 386.6,136.0 387.2,136.3 386.8,137.4 387.4,137.6 388.0,137.8 389.2,137.4 389.4,137.9 388.6,139.5 389.0,139.9 389.6,140.0 389.8,140.6 390.3,140.8 390.4,141.4 391.0,141.6 391.2,142.1 391.8,142.2 391.8,142.8 393.1,142.2 392.8,143.3 394.2,142.5 393.8,143.6 393.4,144.6 394.5,144.2 395.5,143.9 394.6,145.4 395.1,145.6 395.4,146.0 395.5,146.5 396.3,146.4 396.6,146.8 396.7,147.4 397.6,147.3 397.1,148.3 396.9,149.0 397.3,149.4 397.5,149.8 398.6,149.6 399.3,149.7 399.2,150.4 398.7,151.4 399.1,151.7 399.3,152.2 399.6,152.6 400.3,152.7 400.8,153.0 400.7,153.7 401.3,153.9 401.1,154.7 402.8,154.1 402.2,155.1 402.0,156.0 403.6,155.4 402.7,156.7 404.2,156.1 404.2,156.7 403.3,158.0 403.6,158.3 404.1,158.5 404.0,159.2 404.7,159.3 404.6,160.0 404.9,160.5 405.3,160.8 406.5,160.6 406.5,161.2 406.2,162.0 407.4,161.8 406.4,163.2 407.1,163.3 407.1,164.1 408.0,164.1 408.9,164.0 409.0,164.7 408.3,165.9 409.0,166.1 409.1,166.8 409.3,167.3 409.7,167.8 410.2,168.1 411.1,168.0 411.1,168.8 411.7,169.0 411.6,169.9 412.6,169.7 412.5,170.7 413.3,170.7 413.7,171.1 413.7,171.9 414.8,171.6 414.7,172.5 415.0,173.1 416.4,172.3 416.1,173.6 417.3,173.0 416.8,174.5 417.3,174.8 417.7,175.1 418.0,175.6 418.6,175.7 419.7,175.2 419.6,176.2 419.8,176.7 420.2,177.0 420.4,177.7 421.2,177.3 421.6,177.6 422.4,177.4 422.5,178.6 423.1,179.2 423.8,179.4 424.6,179.6 425.1,180.3 425.9,180.1 426.7,179.7 427.4,179.5 427.3,181.3 427.8,181.3 428.4,181.0 428.5,181.8 428.9,181.8 429.6,181.0 429.5,182.3 430.2,181.7 430.4,182.3 430.9,182.5 432.0,181.3 431.6,183.3 432.9,181.8 432.6,183.5 433.0,183.7 433.7,183.4 433.7,184.3 434.4,184.0 434.5,184.7 435.1,184.5 435.7,184.4 435.6,185.4 436.7,184.4 436.3,185.8 437.1,185.4 438.1,184.7 437.6,186.0 437.6,186.6 438.1,186.7 438.9,186.4 438.7,187.4 439.0,187.8 439.2,188.2 440.0,188.2 440.1,188.9 440.9,188.8 441.3,189.1 441.5,189.8 442.7,189.3 443.3,189.5 442.6,191.1 443.1,191.5 443.7,191.7 444.2,192.0 444.5,192.6 445.6,192.2 445.6,193.3 446.2,193.5 446.6,193.9 447.0,194.4 447.8,194.2 448.3,194.5 448.8,194.7 448.8,195.7 449.4,195.6 449.7,196.2 451.0,195.0 450.4,196.8 450.8,196.8 451.1,197.1 452.3,196.1 452.3,196.6 452.4,197.3 452.9,197.6 454.1,197.0 454.3,197.6 454.1,198.5 454.0,199.4 454.4,199.7 454.9,199.9 456.1,199.3 455.6,200.4 456.7,199.8 456.6,200.4 462.4,194.6 463.3,193.4 462.6,193.5 462.0,193.6 462.5,192.5 462.1,192.2 460.5,192.9 461.4,191.1 460.9,190.6 460.1,190.5 459.5,190.0 459.5,189.0 458.9,188.4 458.4,188.2 456.8,189.3 457.5,187.4 456.9,187.3 455.8,187.9 456.1,186.6 455.7,186.2 455.0,186.3 454.8,185.6 454.1,185.7 453.5,185.7 452.5,186.3 453.0,184.6 452.6,184.4 451.7,184.7 451.4,184.3 451.4,183.6 451.2,183.1 450.9,182.8 450.5,182.7 449.6,183.0 449.3,182.6 448.5,182.8 448.2,182.4 448.5,181.3 447.9,181.2 447.9,180.5 447.6,179.9 447.3,179.5 446.4,179.6 446.0,179.1 446.0,178.3 444.8,178.8 444.5,178.2 444.3,177.4 444.1,176.7 443.5,176.4 442.5,176.7 442.5,175.6 441.1,176.6 441.0,175.6 440.1,176.0 439.4,175.9 439.6,174.4 438.7,174.9 438.8,173.6 437.9,174.2 437.8,173.2 437.3,173.0 436.9,172.5 436.5,172.2 436.1,172.1 434.9,173.3 434.9,172.1 434.6,171.2 434.0,171.0 433.4,170.7 432.4,171.9 432.3,170.7 431.3,171.8 431.1,171.1 430.6,171.1 430.5,170.4 430.2,170.1 429.8,170.2 429.8,169.3 429.5,169.1 428.4,170.4 428.7,168.9 427.3,170.0 427.7,169.0 427.6,168.5 426.7,169.1 426.1,169.2 426.8,167.6 426.0,167.9 426.2,166.9 425.9,166.6 425.1,166.8 424.8,166.6 423.8,167.0 423.8,166.2 423.9,165.3 423.6,164.9 423.2,164.7 422.4,164.8 422.2,164.3 422.0,163.7 420.8,164.4 421.1,163.4 420.6,163.1 420.7,162.4 420.5,161.9 420.1,161.5 419.8,161.2 419.4,161.0 418.7,161.0 418.7,160.5 418.6,160.0 418.3,159.7 418.0,159.4 417.7,159.0 417.2,158.9 417.1,158.4 416.8,158.0 415.4,158.6 415.3,158.0 414.7,157.8 415.6,156.6 415.2,156.2 414.2,156.4 414.6,155.5 413.6,155.6 413.5,155.0 413.6,154.3 413.4,153.8 413.1,153.4 412.5,153.2 412.5,152.6 411.4,152.7 411.1,152.2 411.4,151.3 410.7,151.3 410.6,150.7 410.3,150.2 410.0,149.8 408.7,150.1 409.1,149.2 408.4,149.0 408.2,148.6 407.9,148.1 408.0,147.3 407.5,147.1 407.1,146.7 405.7,147.2 406.6,145.8 405.1,146.3 405.4,145.4 405.6,144.7 404.5,144.8 405.0,143.8 404.5,143.5 404.3,143.0 403.9,142.7 403.2,142.6 403.2,141.9 402.2,142.1 402.5,141.1 400.6,142.0 400.6,141.4 401.2,140.2 400.9,139.7 399.5,140.2 399.3,139.7 399.7,138.4 399.0,138.4 397.7,139.0 398.6,137.3 398.2,137.0 397.4,137.0 397.2,136.5 396.4,136.6 395.7,136.6 395.3,136.3 395.4,135.5 394.8,135.4 395.2,134.3 393.4,135.4 393.4,134.7 394.0,133.4 393.2,133.5 392.6,133.4 392.1,133.2 392.1,132.5 392.0,131.9 390.9,132.2 391.6,130.9 390.1,131.7 391.0,130.2 390.7,129.9 388.9,130.7 389.2,129.9 389.7,128.7 389.4,128.4 388.6,128.4 388.8,127.6 387.5,128.0 387.0,127.7 386.7,127.3 387.3,126.1 386.2,126.3 385.4,126.3 385.4,125.6 386.2,124.4 385.9,124.0 384.6,124.3 385.2,123.1 384.9,122.7 383.4,123.2 384.3,121.9 383.8,121.7 382.4,122.0 383.3,120.8 381.9,121.2 381.7,120.7 382.0,119.8 381.7,119.3 381.8,118.7 380.4,119.0 380.6,118.2 380.5,117.7 379.3,118.0 380.1,116.7 379.3,116.7 379.0,116.2 377.8,116.5 378.7,115.2 378.6,114.7 378.4,114.2 378.1,113.8 377.9,113.4 377.6,113.0 377.0,112.8 375.6,113.1 375.3,112.8 376.3,111.6 375.7,111.4 375.0,111.3 375.0,110.8 374.7,110.5 375.3,109.6 375.1,109.2 373.9,109.3 374.7,108.3 374.4,107.9 373.4,107.8 373.1,107.4 374.0,106.5 373.8,106.0 372.8,105.8 372.0,105.6 372.8,104.7 371.5,104.6 372.8,103.6 372.2,103.3 372.3,102.7 371.4,102.5 371.1,102.0 372.0,101.2 371.1,101.0 369.9,100.9 371.3,99.9 370.6,99.7 370.3,99.2 369.2,99.3 370.3,97.9 370.1,97.2 369.4,96.9 369.1,96.4 369.2,95.7 368.8,95.3 368.3,95.0 368.5,94.4 367.8,94.3 368.0,93.7 367.4,93.5 367.2,93.1 367.4,92.4 366.9,92.3 367.0,91.7 366.8,91.3 365.7,91.2 365.4,90.8 366.2,89.9 366.0,89.4 365.3,89.2 364.4,89.0 365.4,88.0 364.8,87.6 364.8,87.1 364.7,86.5 364.3,86.1 363.1,86.1 363.1,85.5 363.4,84.7 363.1,84.2 361.6,84.3 361.8,83.6 362.3,82.8 360.9,82.9 361.4,82.0 360.6,81.8 360.7,81.2 359.9,81.1 360.4,80.3 360.9,79.6 360.7,79.2 359.8,79.2 360.1,78.5 359.7,78.1 358.7,77.9 359.4,77.2 357.9,77.2 359.5,76.2 357.6,76.3 358.2,75.5 357.8,75.1 358.7,74.2 358.5,73.7 356.6,73.9 357.6,72.9 357.6,72.3 357.3,71.9 355.6,72.1 356.9,70.9 356.7,70.5 356.6,70.0 356.1,69.8 355.6,69.5 355.8,68.8 354.3,68.8 355.6,67.8 354.9,67.5 355.3,66.8 354.0,66.7 354.8,65.8 354.8,65.3 353.7,65.1 353.9,64.5 352.9,64.2 352.6,63.8 352.4,63.3 353.7,62.4 353.3,62.0 353.1,61.5 351.4,61.5 352.9,60.5 352.8,60.0 351.3,59.9 352.7,58.9 352.5,58.4 350.9,58.3 352.1,57.3 351.9,56.9 351.0,56.6 351.2,56.0 351.6,55.4 351.3,55.0 351.1,54.5 349.4,54.4 350.2,53.8 350.6,53.3 349.3,53.0 350.2,52.4 350.3,51.9 350.7,51.3 350.8,50.8 350.4,50.3 349.4,49.8 350.4,49.2 349.6,48.7 350.3,48.0 349.7,47.5 349.3,47.0 349.8,46.3 348.7,45.9 348.7,45.4 348.7,44.9 348.9,44.4 349.5,43.9 348.3,43.8Z" fill="#808000" stroke="#808000" stroke-width="1.0" stroke-linejoin="round"/></g>
<path d="M107.0,300.5 107.3,300.5 107.7,300.7 108.0,300.7 108.4,300.1 109.0,301.5 109.4,300.6 109.9,300.7 110.4,300.3 111.0,300.5 111.6,300.0 112.3,301.8 113.0,302.7 113.4,299.9 114.0,299.8 114.5,298.7 115.2,299.6 115.9,301.6 116.4,300.4 117.1,301.5 117.4,298.8 118.0,300.0 118.6,300.2 119.2,299.7 119.8,299.9 120.3,299.6 120.7,298.8 121.4,299.6 122.0,299.8 122.5,299.8 122.9,299.0 123.5,299.4 124.0,299.5 124.5,299.4 125.0,298.9 125.3,297.5 126.0,299.1 126.4,298.1 126.8,297.3 127.4,298.0 128.1,299.0 128.5,298.0 128.9,296.9 129.7,298.7 130.0,297.1 130.5,297.3 131.1,297.3 131.6,297.2 132.3,298.0 132.8,298.2 133.1,296.9 133.7,297.2 134.1,296.1 134.8,297.5 135.4,297.7 136.4,300.4 136.4,297.2 136.7,295.9 137.5,297.4 138.0,297.3 138.5,297.0 139.0,297.1 139.4,295.9 139.8,295.3 140.5,296.4 141.0,296.3 141.3,295.0 142.1,296.6 142.7,296.5 143.2,296.4 143.4,294.8 144.1,296.0 144.7,296.1 145.2,296.0 145.7,295.6 146.2,295.4 146.5,294.0 147.3,295.6 147.6,294.3 148.3,295.1 148.9,295.1 149.2,294.1 149.9,294.9 150.5,295.1 151.1,295.7 151.5,294.9 152.2,295.7 152.4,294.3 153.0,294.8 153.3,293.3 153.7,292.7 154.4,293.7 155.1,294.4 155.5,294.3 156.0,294.1 156.5,294.1 156.7,292.2 157.7,295.0 158.0,293.4 158.6,293.8 159.2,293.5 159.5,292.7 160.3,293.2 160.7,292.4 161.2,292.3 161.8,292.4 162.3,292.1 163.3,293.5 163.2,291.8 163.8,291.7 164.2,291.5 164.8,291.7 165.3,291.6 165.7,291.2 166.2,291.0 166.4,290.1 167.2,290.8 167.7,290.6 168.3,290.5 168.4,288.7 168.7,288.4 169.1,288.4 170.8,291.9 170.1,288.3 171.3,290.7 171.4,289.3 171.5,288.0 172.3,289.2 172.8,288.9 173.1,288.3 173.8,288.8 173.8,286.9 174.8,288.4 174.9,287.0 176.3,289.8 176.0,286.9 176.8,287.8 177.0,286.6 177.8,287.3 178.3,287.3 178.8,287.1 179.6,288.1 179.8,286.8 180.2,286.4 180.7,286.4 181.3,286.5 181.7,286.2 182.1,285.8 182.7,286.0 183.4,286.7 183.3,284.4 184.2,285.6 184.2,283.8 185.8,287.3 185.3,283.5 186.1,284.5 186.6,284.2 187.3,284.7 187.6,283.8 188.3,284.3 188.8,284.3 189.3,284.0 189.8,284.0 190.3,283.8 190.7,283.7 191.2,283.5 191.2,281.7 192.0,283.0 192.5,282.9 193.0,283.1 193.0,281.5 193.8,282.6 194.5,282.6 195.3,283.1 195.2,280.5 196.2,281.8 196.9,281.8 197.3,281.6 197.5,280.3 198.3,281.2 198.7,281.0 198.8,280.0 199.0,279.2 199.8,280.2 200.3,280.4 200.7,280.4 200.7,279.1 201.7,280.5 202.5,281.6 202.1,278.0 202.9,279.8 203.3,279.3 203.6,278.7 204.3,279.4 204.8,279.0 205.5,279.0 206.2,278.7 206.6,278.7 207.0,278.7 207.0,277.0 207.4,276.7 208.0,276.9 208.4,276.5 209.3,278.0 209.8,277.8 210.4,277.8 210.8,277.5 211.4,277.5 211.7,276.6 212.4,276.9 212.9,276.9 213.1,275.5 214.5,278.6 214.2,275.4 215.0,276.5 215.0,274.9 215.8,275.8 216.0,274.5 217.3,277.1 217.4,275.4 217.5,274.2 218.1,274.4 218.5,274.1 219.4,275.5 219.4,273.6 220.8,276.9 220.5,274.1 221.0,274.4 221.6,274.6 221.7,273.4 222.7,275.3 222.9,273.8 223.6,274.5 223.6,272.3 224.2,272.9 224.8,273.4 225.3,273.7 225.8,273.6 226.2,273.6 226.7,273.4 227.2,273.4 228.0,275.0 228.2,273.0 228.5,271.7 229.2,272.8 229.7,272.4 230.7,275.5 230.8,272.1 231.5,273.1 231.9,272.4 232.5,272.9 233.0,272.5 233.9,274.7 234.1,272.4 234.4,271.1 235.0,271.6 235.4,270.4 236.2,272.1 236.9,273.8 237.2,271.9 237.6,271.1 238.2,271.6 238.6,270.7 239.2,271.2 239.9,272.6 240.1,270.5 240.7,270.8 241.3,271.2 241.6,269.7 242.2,270.1 242.6,269.6 243.3,270.2 243.8,270.5 244.4,270.4 245.5,273.5 245.5,270.6 246.4,272.7 246.7,271.3 246.8,269.0 247.4,269.2 247.8,268.7 248.5,269.6 249.2,269.8 249.7,269.7 249.9,267.9 250.8,269.6 251.3,269.2 251.6,267.9 252.4,269.2 253.0,269.1 253.5,268.9 254.0,268.7 254.8,269.8 254.8,267.7 255.5,268.2 256.0,268.4 256.3,267.8 256.8,267.8 257.1,267.3 257.4,266.6 258.0,267.5 258.5,266.2 259.3,266.5 260.1,267.2 260.6,266.9 261.7,268.0 261.2,265.5 261.8,265.7 262.6,266.2 262.9,265.5 263.3,265.0 263.9,265.1 264.5,265.1 264.5,264.0 265.3,264.2 265.3,263.2 266.2,263.6 266.4,262.8 266.7,262.3 267.9,262.9 268.4,262.7 268.2,261.4 268.9,261.5 269.1,260.9 270.0,261.1 270.5,261.1 270.8,260.6 270.4,259.0 272.9,262.0 271.7,259.2 271.6,258.1 272.3,258.2 273.5,259.0 273.9,258.5 274.4,258.2 274.9,257.8 274.9,256.8 274.9,255.9 275.5,255.6 276.8,256.1 277.0,255.6 276.6,254.5 276.9,254.0 277.2,253.6 277.4,253.1 278.0,252.8 280.4,253.9 279.5,252.6 278.7,251.2 279.7,251.3 282.0,252.1 280.9,250.7 281.0,250.0 280.1,248.8 281.6,249.1 281.6,248.4 282.0,248.0 281.4,247.0 282.4,246.8 282.9,246.3 284.7,246.3 282.9,245.0 282.0,244.1 282.2,243.6 282.9,243.2 283.1,242.7 284.1,242.4 283.9,241.8 284.1,241.3 284.0,240.8 284.5,240.3 284.1,239.7 282.9,238.8 284.7,238.6 284.9,238.0 285.0,237.4 284.9,236.7 284.1,236.0 284.2,235.4 283.5,234.7 284.0,234.2 285.3,233.9 284.8,233.4 284.2,232.8 285.1,232.6 284.3,232.2 278.7,231.1 281.3,231.9 281.2,232.3 281.2,232.7 281.0,233.2 280.6,233.6 281.4,234.3 280.7,234.7 279.6,235.1 278.6,235.6 281.4,236.7 276.7,236.4 280.4,237.7 281.3,238.5 279.7,238.7 279.2,239.1 278.0,239.4 279.0,240.2 280.0,240.9 279.7,241.4 278.3,241.6 279.0,242.2 278.9,242.7 278.7,243.2 277.3,243.2 278.9,244.2 277.7,244.2 279.1,245.3 277.4,245.1 277.4,245.7 277.7,246.3 277.8,246.8 276.3,246.4 277.6,247.9 276.3,247.6 277.0,248.6 275.9,248.5 274.9,248.4 274.9,249.1 273.1,248.3 274.2,249.8 273.6,250.0 274.0,250.9 273.0,250.7 272.8,251.2 272.3,251.4 272.0,251.7 271.8,251.9 271.4,252.3 271.7,253.2 270.9,253.0 270.4,253.1 270.2,253.6 270.5,254.7 269.6,254.2 269.1,254.3 268.8,254.7 268.2,254.7 268.0,255.4 267.3,255.3 266.9,255.8 266.3,255.8 264.2,253.8 265.6,256.7 265.3,257.1 264.8,257.4 264.4,257.8 263.8,257.8 264.1,259.3 262.9,258.5 262.8,259.3 261.2,257.7 262.2,260.2 261.6,260.0 261.0,259.9 260.5,259.8 260.2,260.5 259.6,260.3 259.1,260.2 259.3,261.3 259.3,262.1 258.3,260.6 258.0,260.8 258.0,262.1 257.0,261.0 256.2,260.9 256.2,262.1 255.6,261.5 255.3,262.0 254.9,261.8 254.4,261.7 253.3,259.3 253.7,263.0 252.5,260.0 252.9,263.8 252.1,262.6 251.6,262.8 251.0,262.5 250.4,262.5 250.1,263.6 249.4,263.1 248.9,263.3 248.5,264.0 247.7,262.5 247.3,263.3 247.0,264.6 246.6,265.0 245.5,262.1 245.5,264.6 244.8,263.7 244.3,263.8 243.9,264.6 243.4,265.0 243.0,265.4 242.4,265.0 241.8,264.4 241.5,266.0 240.7,264.3 240.4,265.2 239.8,264.9 239.4,266.0 238.7,264.7 238.4,265.8 237.7,264.8 237.2,264.9 236.8,266.3 236.1,265.1 235.8,266.3 235.2,265.7 234.7,266.3 234.1,265.6 233.3,263.7 233.0,265.5 232.6,266.0 232.1,266.3 231.3,264.6 230.9,265.6 230.4,265.9 230.1,267.9 229.5,267.1 228.8,266.4 228.4,267.5 227.7,266.3 227.4,267.9 226.8,267.7 226.4,268.3 225.6,266.6 225.2,267.2 224.8,268.4 224.4,268.6 223.9,268.8 223.3,268.4 222.6,267.2 222.1,267.8 220.9,265.1 220.5,266.2 220.6,268.8 220.0,268.5 219.5,268.7 218.8,268.2 218.7,269.5 217.8,268.3 217.5,268.7 216.9,268.6 216.5,268.7 216.2,269.5 215.5,268.9 215.1,269.1 214.6,269.2 214.1,269.3 213.6,269.4 213.1,269.5 212.7,269.9 212.2,269.8 212.1,271.8 211.3,270.6 210.7,270.3 210.1,270.3 209.6,270.4 209.1,270.6 208.6,270.9 208.2,271.5 207.6,271.2 207.0,271.0 206.6,271.5 206.2,271.9 205.5,270.8 205.3,271.9 205.1,272.8 204.5,272.0 203.7,271.9 203.4,273.0 202.9,273.4 202.4,273.2 201.7,272.4 201.2,272.4 201.1,274.0 200.1,272.6 199.9,273.9 199.1,273.6 198.8,274.3 198.1,273.5 198.1,275.0 197.1,273.5 195.9,271.5 196.8,275.5 196.1,274.9 194.7,272.4 194.5,273.2 194.5,274.8 194.3,275.8 193.3,274.7 192.8,274.9 192.4,275.8 191.6,275.2 191.5,276.3 190.8,275.4 190.4,275.6 190.2,276.5 189.7,276.2 189.1,275.9 189.1,277.8 188.5,277.3 187.7,276.4 187.4,277.2 186.8,276.9 186.7,278.4 186.1,278.2 185.2,277.0 184.7,277.3 184.4,278.1 183.6,277.3 183.2,278.0 182.8,278.5 182.0,277.7 181.9,279.2 181.2,278.6 180.4,278.1 180.4,280.0 179.5,278.5 179.1,279.0 178.4,278.7 178.0,279.1 177.6,279.6 176.7,278.5 176.9,280.8 175.9,279.5 175.6,280.2 175.4,281.6 174.5,280.3 173.2,278.0 173.6,281.2 173.1,281.1 172.4,280.8 171.8,280.8 171.3,280.9 170.9,281.3 170.4,281.4 170.4,282.9 169.4,281.5 168.9,281.7 168.4,281.8 168.3,282.8 168.1,283.8 167.1,282.3 166.8,282.7 166.3,282.5 166.2,284.2 165.2,283.4 164.7,284.0 163.8,283.3 163.6,284.3 163.0,284.2 162.7,284.9 161.9,284.1 160.8,282.6 161.0,284.4 160.9,285.3 159.3,282.2 160.3,286.4 159.9,286.3 158.9,284.5 158.7,285.2 158.7,287.2 158.0,286.4 157.5,286.2 157.0,285.9 156.4,284.9 156.2,286.0 155.8,286.4 155.3,286.3 154.8,286.0 154.5,287.4 153.9,287.1 153.2,286.1 152.7,286.5 152.2,286.6 151.9,287.7 151.2,286.5 150.3,284.4 150.4,287.7 149.7,286.7 149.2,286.8 148.7,287.1 147.7,284.2 147.6,287.0 147.2,288.0 146.5,287.3 146.0,287.2 145.1,284.8 144.9,287.4 144.4,287.4 143.6,286.0 143.4,288.0 142.8,288.2 142.6,289.6 141.9,288.9 141.4,288.8 140.6,287.3 140.2,288.3 139.9,290.0 139.3,289.3 138.7,288.8 138.2,289.0 137.7,289.2 137.1,289.2 136.6,289.2 135.6,286.7 135.6,289.4 135.1,289.7 134.5,289.5 134.0,289.4 133.7,290.8 133.0,290.2 132.4,289.7 131.9,289.6 131.4,289.7 130.9,290.1 130.4,290.0 130.0,291.0 129.3,290.0 129.0,291.5 128.3,290.3 128.1,292.1 127.5,292.2 126.7,290.4 126.2,290.6 125.9,292.0 125.2,290.9 124.7,290.8 124.4,292.4 123.4,289.4 122.9,289.4 122.8,291.6 122.2,291.3 121.7,291.4 120.8,288.7 120.7,291.6 120.2,291.4 120.0,293.2 119.0,289.7 118.8,292.5 118.1,291.3 117.7,292.1 117.2,292.3 116.8,293.5 116.4,293.7 115.6,291.5 115.2,293.2 114.8,294.4 113.9,290.7 113.5,293.2 113.0,294.1 112.3,293.1 111.8,294.6 111.1,293.3 110.6,294.1 110.0,293.1 109.4,292.9 109.0,293.7 108.4,293.1 107.8,290.7 107.6,293.2 107.2,293.2 106.7,291.8 106.4,291.6Z" fill="#ff8000" stroke="#ff8000" stroke-width="1.0" stroke-linejoin="round"/>
<path d="M105.1,303.3 105.3,303.6 105.6,303.9 107.2,302.8 107.0,304.1 107.3,304.9 107.8,305.6 108.3,306.0 108.9,306.4 109.6,306.3 110.1,306.5 110.6,306.8 111.2,307.1 112.0,307.0 112.8,307.2 113.3,307.0 113.9,305.9 114.1,307.6 114.8,305.9 115.1,307.7 115.7,307.1 116.3,306.3 116.7,307.7 117.3,308.0 117.9,308.0 118.5,307.1 119.2,306.8 119.6,308.1 120.2,307.7 120.8,308.3 121.4,307.8 121.9,308.3 122.5,308.4 123.0,308.2 123.6,308.1 124.1,306.8 124.7,308.0 125.2,307.4 125.7,308.2 126.3,308.1 126.7,307.1 127.3,308.2 127.9,308.1 128.4,307.7 128.9,307.4 129.4,308.0 130.0,308.0 130.5,307.7 131.0,307.4 131.4,306.0 132.1,307.9 132.6,307.5 133.0,306.7 133.5,305.9 134.0,306.3 134.5,306.1 135.0,305.7 135.5,305.5 136.3,307.4 136.7,307.0 137.2,306.6 137.8,306.8 138.3,307.2 138.8,306.7 139.3,306.7 139.8,306.0 140.3,306.7 140.9,306.8 141.3,306.5 141.8,305.8 142.3,306.1 142.9,306.5 143.4,306.7 143.9,305.5 144.4,305.6 145.0,306.5 145.4,305.4 146.1,306.5 146.4,304.8 147.0,304.6 147.7,306.2 148.2,305.6 148.8,305.8 149.1,304.6 149.7,305.2 150.1,304.6 150.6,304.3 151.3,305.4 151.5,304.1 152.3,305.2 152.5,303.9 152.9,303.5 153.5,303.7 154.2,304.7 154.7,304.4 154.9,303.3 155.8,304.6 156.2,304.3 156.8,304.3 157.3,304.1 157.5,302.8 158.2,303.8 158.7,303.5 158.8,301.9 159.4,302.5 159.8,302.2 160.3,302.1 160.8,302.1 161.5,302.9 161.8,301.8 162.2,301.3 163.0,302.7 163.3,301.8 163.9,302.1 164.2,300.8 165.0,302.3 165.2,300.7 166.0,301.9 166.2,300.3 166.9,301.0 167.3,300.4 167.9,300.6 168.6,301.3 169.0,301.1 169.5,300.8 169.9,300.2 170.6,301.0 171.1,300.7 171.4,299.7 172.2,300.7 172.7,300.6 173.3,300.6 173.7,299.9 174.2,299.0 174.9,300.1 175.3,299.1 175.9,299.5 176.2,298.0 177.1,299.9 177.5,299.5 177.9,298.6 178.3,298.1 178.9,298.8 179.1,297.7 179.6,297.8 180.1,298.3 180.6,298.7 181.2,297.6 182.1,298.7 182.6,298.3 182.8,297.2 183.1,296.6 183.5,296.6 184.4,298.1 184.4,296.9 185.0,297.1 185.7,297.4 186.1,297.3 186.6,297.2 186.9,296.6 187.3,296.3 188.0,296.9 188.5,296.8 188.9,296.3 189.0,294.7 189.4,294.4 190.3,295.5 190.5,294.1 191.0,294.1 192.0,295.2 192.6,295.3 193.0,295.0 193.1,293.9 193.8,294.2 194.5,294.7 194.5,293.1 195.5,294.4 195.9,294.0 196.3,293.5 196.7,293.1 197.1,292.6 197.7,292.9 198.0,292.1 198.4,291.8 199.2,292.3 199.6,292.1 200.2,292.0 200.8,292.2 201.2,291.9 201.8,291.9 202.0,291.0 202.8,291.7 203.3,291.6 203.4,290.4 204.0,290.5 204.2,289.6 205.2,290.8 205.3,289.7 206.1,290.3 206.3,289.3 207.0,289.5 207.7,289.9 208.1,289.4 208.6,289.1 209.2,289.2 209.7,288.9 210.0,288.3 210.2,287.5 210.4,286.7 211.6,287.9 211.6,286.8 212.2,286.6 212.7,286.5 213.5,286.7 214.0,286.5 214.4,286.3 214.4,285.2 215.2,285.6 215.7,285.5 215.9,284.7 216.7,285.0 216.7,284.0 217.0,283.4 217.3,283.0 218.3,283.6 218.9,283.6 219.4,283.5 219.6,282.9 219.8,282.2 220.0,281.5 220.8,281.9 221.3,282.0 221.4,281.0 222.4,281.9 222.8,281.6 222.9,280.9 223.2,280.4 224.0,281.0 223.7,279.1 224.9,280.6 224.9,279.2 225.8,280.0 226.4,280.1 226.4,278.6 227.2,279.4 227.7,279.2 227.8,278.0 228.7,279.2 228.6,277.4 229.5,278.5 230.0,278.3 230.3,277.9 230.2,276.6 231.4,277.7 231.8,277.3 232.5,277.6 232.9,277.5 233.3,277.4 233.2,276.2 233.4,275.4 234.5,276.5 235.1,275.6 235.6,276.1 235.8,275.6 236.3,275.9 236.7,275.9 237.0,275.0 237.7,276.1 238.1,275.5 238.3,274.2 239.0,275.1 239.5,274.8 240.2,275.4 240.4,274.1 241.2,274.9 241.6,274.1 242.4,274.7 242.8,274.1 243.3,273.6 243.8,273.5 244.5,273.6 244.9,273.3 245.7,273.8 246.3,273.7 246.7,273.0 247.0,272.4 247.4,272.0 248.3,272.7 248.7,272.2 249.1,271.8 249.8,272.0 250.4,272.0 250.8,271.3 251.5,271.5 252.0,271.3 252.4,270.7 252.8,270.3 253.3,269.9 253.9,269.9 254.4,269.8 255.1,269.9 255.4,269.3 255.7,268.8 255.7,267.7 256.1,267.3 256.6,267.3 257.6,268.3 257.9,267.9 257.8,266.8 259.1,267.6 258.9,266.0 259.4,265.7 260.0,265.6 261.2,266.5 260.6,264.9 261.8,265.6 262.5,265.5 262.6,264.8 262.6,263.9 262.5,262.8 263.7,263.4 264.1,263.0 264.2,262.5 264.4,262.0 264.8,261.7 265.2,261.4 265.7,261.1 266.5,261.0 266.0,260.0 267.2,260.2 267.3,259.6 266.8,258.5 268.0,258.7 267.0,257.3 267.5,257.0 269.0,257.5 269.2,256.9 269.8,256.7 270.1,256.4 268.9,254.8 269.4,254.7 270.1,254.5 270.7,254.4 270.7,253.6 271.4,253.6 272.3,253.7 271.6,252.4 272.4,252.4 273.1,252.5 272.4,251.2 273.9,251.8 273.4,250.8 274.5,251.0 274.1,250.0 275.0,250.1 275.4,249.8 275.8,249.4 274.6,247.8 275.6,247.9 276.2,247.7 276.1,246.9 276.0,246.2 277.8,246.9 276.9,245.5 278.5,245.9 278.1,244.9 277.7,243.9 278.7,244.0 278.7,243.2 280.1,243.6 280.5,243.1 280.6,242.6 281.0,242.2 280.8,241.5 281.2,241.2 280.9,240.4 281.6,240.0 282.0,239.4 282.7,239.0 282.7,238.4 282.6,237.7 282.4,237.1 282.0,236.5 282.6,236.2 283.0,235.9 283.5,235.7 283.6,235.3 282.6,234.3 283.8,234.1 283.9,233.5 283.8,232.8 283.1,231.9 284.8,231.9 283.9,231.0 285.1,231.1 284.9,230.6 282.0,229.5 282.1,229.9 281.1,229.9 281.8,230.7 280.8,230.9 281.7,231.9 280.0,231.9 279.9,232.6 279.6,233.1 279.7,233.8 279.1,234.2 279.1,234.7 279.9,235.5 279.8,235.9 280.2,236.5 278.6,236.5 279.7,237.3 278.3,237.3 278.9,238.0 279.0,238.7 278.5,239.1 277.3,238.9 277.0,239.1 277.0,239.6 277.9,240.8 276.4,240.4 276.6,241.1 276.4,241.6 275.8,241.8 275.6,242.4 276.2,243.5 274.9,243.2 274.0,243.3 273.8,243.8 274.2,244.8 273.4,244.9 273.1,245.3 273.6,246.3 272.8,246.4 272.0,246.4 272.6,247.6 272.5,248.1 271.5,247.9 270.6,247.8 271.1,248.8 270.6,249.0 270.1,249.2 269.3,249.1 269.9,250.3 269.0,250.2 268.4,250.3 268.1,250.8 269.1,252.3 268.7,252.7 266.9,251.9 266.9,252.7 267.6,253.8 266.0,253.2 265.9,253.7 265.3,254.0 265.6,254.8 265.0,255.1 265.5,256.1 264.0,255.7 264.3,256.6 264.6,257.5 264.0,257.8 262.7,257.4 262.3,257.8 263.4,259.3 262.3,259.1 261.4,258.9 262.7,260.6 261.1,259.9 261.2,260.4 260.3,260.2 261.3,261.6 259.8,261.1 259.4,261.5 259.2,261.9 258.8,262.0 258.6,262.2 258.3,262.3 258.0,262.4 257.6,262.6 257.5,263.4 256.7,263.2 256.8,265.0 255.9,264.2 255.8,265.0 255.8,265.8 254.5,264.2 254.1,264.5 254.0,265.5 253.3,265.0 252.8,265.2 252.3,265.4 252.2,266.4 251.9,266.9 251.2,266.9 250.4,266.4 249.9,266.5 249.9,268.0 249.1,267.5 248.4,267.2 247.9,267.6 247.5,267.9 247.1,268.4 246.4,268.0 245.9,268.2 245.6,268.7 245.2,269.1 244.5,268.7 244.1,268.9 243.6,269.2 243.3,270.0 242.6,269.4 242.2,269.8 241.8,270.6 241.4,271.4 240.7,270.6 240.1,270.6 239.8,271.7 238.9,270.4 238.5,270.8 238.3,272.3 237.6,271.8 237.1,271.8 236.8,272.6 236.0,271.1 235.6,271.6 235.1,271.6 234.8,271.9 234.4,272.4 234.3,273.2 233.1,272.4 232.9,273.9 232.0,273.1 231.4,273.0 231.0,273.2 230.6,273.2 230.1,273.1 229.6,273.4 229.1,273.7 228.7,273.7 228.5,274.4 228.0,274.2 227.7,274.8 227.4,275.4 227.1,276.3 226.2,275.2 225.8,275.5 225.3,275.8 224.6,275.5 224.4,276.5 224.1,277.2 223.2,276.5 222.4,276.1 222.1,276.6 221.7,277.1 220.9,276.8 220.9,277.9 220.0,277.3 219.8,278.1 219.1,277.8 218.9,278.6 219.0,279.8 218.5,279.9 218.0,280.1 216.9,279.2 216.7,280.0 216.4,280.4 216.0,280.8 215.4,280.7 214.6,280.3 214.6,281.3 213.9,281.0 213.5,281.4 213.3,282.0 212.4,281.5 212.1,282.1 211.4,282.0 211.4,283.1 210.9,283.3 210.1,283.0 210.4,284.6 209.1,283.3 208.8,283.8 209.1,285.4 208.7,285.7 207.6,284.6 207.8,286.1 207.2,286.1 206.6,286.1 206.1,286.2 205.5,285.9 205.1,286.4 205.0,287.3 203.8,285.8 203.3,285.9 202.9,286.2 202.4,286.4 201.9,286.6 201.9,287.8 201.4,288.1 200.5,287.0 200.2,287.7 199.7,287.8 199.3,288.2 199.0,288.7 198.2,288.1 197.8,288.5 197.3,288.6 196.7,288.6 196.2,288.7 196.1,289.8 195.6,290.1 194.8,289.3 194.4,289.5 193.8,289.5 193.4,289.8 193.2,290.7 192.3,289.9 191.9,290.4 191.4,290.5 191.0,290.7 190.4,290.7 190.2,291.6 189.5,291.2 189.1,291.9 188.4,291.3 187.9,291.5 187.6,292.4 187.4,293.6 186.6,292.6 185.9,292.1 185.5,292.3 185.3,293.3 185.1,294.2 184.2,292.7 183.6,292.9 183.6,294.3 182.9,293.7 182.4,293.4 182.2,293.9 181.9,294.0 181.4,293.6 181.1,294.6 180.4,294.4 179.6,294.3 179.6,296.0 179.2,295.8 178.6,294.9 178.1,294.7 177.7,295.1 177.1,294.5 176.6,294.6 176.1,294.9 175.9,296.5 175.4,296.6 174.6,295.4 174.3,296.6 173.6,295.8 173.1,296.3 172.3,295.4 172.0,296.6 171.3,295.8 170.7,295.7 170.2,296.2 169.6,296.0 169.1,296.2 168.5,296.1 168.1,296.4 167.6,296.5 167.2,297.1 166.8,297.8 166.0,296.9 165.7,298.2 164.9,296.9 164.5,297.8 164.0,297.9 163.7,298.9 163.1,298.9 162.3,297.5 162.0,298.4 161.6,299.0 161.3,299.8 160.5,298.8 160.1,299.4 159.4,298.5 159.1,299.1 158.4,298.6 158.3,299.8 157.6,299.0 157.4,300.3 156.7,299.4 156.1,299.2 155.9,300.5 155.1,299.6 154.8,300.5 154.0,299.7 153.6,300.2 153.1,300.1 152.7,300.6 152.3,301.1 151.8,301.0 151.3,301.0 150.7,300.5 150.6,302.2 149.8,300.6 149.4,300.8 149.2,302.5 148.5,301.3 148.3,302.6 147.8,302.8 147.0,301.2 146.8,303.0 146.1,302.3 145.6,302.0 145.1,302.1 144.6,301.9 144.0,301.4 143.6,301.9 143.2,303.3 142.5,301.9 142.0,301.5 141.5,302.6 140.9,301.6 140.4,301.7 139.9,302.0 139.4,302.2 138.9,302.9 138.3,301.9 137.8,302.6 137.2,302.0 136.8,302.5 136.2,302.1 135.9,304.0 135.2,302.9 134.8,303.4 134.1,302.3 133.6,302.5 133.1,302.4 132.6,302.7 132.2,303.2 131.6,302.6 131.1,302.6 130.7,303.7 130.2,304.0 129.6,303.3 129.0,302.8 128.5,303.0 128.0,303.2 127.5,303.2 127.0,303.3 126.5,303.2 126.0,303.0 125.6,304.2 125.1,304.9 124.5,303.1 124.0,303.1 123.5,304.5 123.0,303.4 122.6,303.3 122.1,303.2 121.5,304.0 121.0,304.6 120.5,303.5 120.0,303.0 119.4,303.4 118.8,304.6 118.3,303.7 117.7,303.9 117.1,304.2 116.8,302.8 116.1,303.6 115.5,304.3 115.2,302.9 114.8,302.4 114.3,303.0 113.9,303.1 113.5,303.1 112.7,302.9 112.1,302.7 111.4,303.8 111.5,301.9 110.7,303.3 110.9,301.8 110.6,301.6 109.6,302.6 109.6,301.6 109.1,301.2 108.9,300.6 108.4,300.4 107.5,300.8 106.6,301.3Z" fill="#ff00ff" stroke="#ff00ff" stroke-width="1.0" stroke-linejoin="round"/>
<path d="M106.7,276.4 107.1,276.7 107.4,276.8 107.7,275.2 108.3,276.1 108.9,276.7 109.4,275.7 110.0,275.6 110.7,276.5 111.3,276.1 111.9,275.9 112.6,276.2 113.2,276.4 113.6,275.5 114.2,275.9 114.8,276.1 115.3,275.9 115.9,275.9 116.1,274.4 116.9,275.5 117.5,275.7 117.7,274.0 118.5,274.8 119.0,274.7 119.7,275.1 120.3,275.0 120.8,274.9 121.2,274.3 121.7,274.3 122.1,273.7 122.7,273.7 123.1,273.4 123.9,274.0 124.1,273.1 124.8,273.5 124.7,271.6 125.5,272.4 126.2,273.1 126.7,273.1 126.9,272.1 127.3,271.7 128.1,272.4 128.4,271.9 129.0,272.1 129.4,271.6 129.7,270.9 130.5,271.6 131.0,271.4 131.6,271.6 132.1,271.4 132.7,271.3 132.8,269.9 133.4,270.0 133.9,269.7 134.7,270.4 135.1,270.0 135.2,268.8 135.9,269.1 136.2,268.4 137.2,269.6 137.6,269.3 137.4,267.4 138.6,269.0 139.0,268.8 139.2,268.0 139.9,268.3 140.3,267.8 140.9,268.2 141.1,267.1 141.7,267.5 141.9,266.6 142.3,266.1 142.9,266.5 143.2,265.8 144.0,267.2 144.3,266.6 144.6,266.2 145.0,265.7 145.6,266.9 146.0,266.4 146.5,266.5 146.9,266.3 147.4,266.1 147.9,266.7 148.3,265.0 148.9,266.0 149.4,264.9 150.0,265.7 150.6,266.3 151.0,265.4 151.5,265.5 152.1,265.9 152.6,266.4 153.0,266.1 153.5,266.2 153.9,265.2 154.4,264.7 155.0,265.5 155.5,265.3 156.1,266.2 156.7,265.5 157.1,266.2 157.5,265.7 157.9,266.1 158.4,265.9 158.8,266.1 159.2,265.4 159.6,264.2 160.1,266.1 160.6,266.0 161.0,266.0 161.6,266.0 162.0,264.3 162.6,265.7 163.2,265.6 163.8,265.7 164.5,265.9 165.1,265.4 165.5,265.6 165.9,265.9 166.3,264.6 166.8,265.8 167.2,265.2 167.7,265.9 168.2,265.7 168.6,264.0 169.1,264.3 169.6,264.3 170.1,264.0 170.6,265.7 171.1,265.1 171.7,265.6 172.2,265.5 172.7,265.7 173.3,265.1 173.8,265.4 174.3,265.5 174.9,265.7 175.4,265.7 175.9,264.9 176.5,265.0 177.0,265.3 177.5,264.6 178.1,264.6 178.6,265.1 179.2,265.7 179.7,265.2 180.2,265.4 180.7,265.1 181.2,264.6 181.7,265.0 182.3,265.5 182.8,265.5 183.3,265.4 183.8,264.1 184.3,264.6 184.8,263.8 185.5,265.3 186.0,265.1 186.5,265.1 187.0,265.2 187.5,263.7 188.1,265.2 188.6,265.2 189.0,263.6 189.5,263.4 190.1,264.9 190.6,264.6 191.1,264.9 191.6,263.8 192.1,264.2 192.5,263.2 193.1,264.8 193.5,264.0 194.0,264.8 194.4,264.2 194.8,264.7 195.2,263.8 195.8,263.3 196.4,262.9 197.0,264.2 197.5,263.3 198.1,264.2 198.6,262.7 199.1,262.9 199.7,264.6 200.1,263.0 200.6,262.7 201.2,264.0 201.6,263.9 202.1,262.6 202.7,264.5 203.1,263.8 203.6,263.0 204.2,264.4 204.7,264.4 205.1,263.1 205.6,262.4 206.3,264.2 206.8,263.5 207.3,263.2 207.9,263.4 208.3,262.8 209.0,263.9 209.3,262.0 210.1,263.6 210.6,263.7 211.1,262.9 211.4,261.7 212.2,263.4 212.5,261.7 213.2,263.4 213.7,263.3 214.2,263.1 214.7,263.1 215.1,262.7 215.6,262.9 216.2,262.9 216.5,261.2 217.1,262.0 217.5,261.1 218.2,262.7 218.7,262.5 219.2,262.6 219.6,261.5 220.1,261.8 220.7,262.3 221.1,261.3 221.7,262.2 222.2,261.6 222.8,261.8 223.2,260.4 223.9,261.3 224.5,261.8 224.9,261.5 225.4,261.4 225.8,261.0 226.4,261.4 226.7,260.0 227.4,261.1 227.9,260.7 228.2,259.3 228.7,259.2 229.4,260.0 229.9,259.9 230.6,260.7 231.1,260.3 231.4,258.6 231.9,258.5 232.8,260.2 233.3,260.1 233.8,259.4 234.3,259.2 234.9,259.7 235.5,259.6 235.9,259.1 236.5,259.5 236.7,257.9 237.4,258.9 238.0,258.7 238.4,258.3 238.9,258.1 239.6,258.4 240.0,257.9 240.7,258.6 241.0,257.3 241.8,258.4 242.2,257.6 242.8,258.1 243.1,257.1 243.5,256.2 244.3,257.8 244.6,256.7 244.9,255.8 245.5,256.3 246.2,257.4 246.5,256.8 246.9,256.6 247.7,256.7 248.5,256.7 248.9,255.6 249.6,255.9 250.2,256.0 250.3,254.4 251.3,255.7 251.5,255.0 252.2,255.5 252.4,255.0 252.8,254.8 253.3,255.0 253.4,253.5 254.3,254.8 254.4,253.2 255.1,254.1 255.8,254.4 256.4,254.2 256.5,252.5 257.3,252.8 258.3,253.5 259.0,253.2 258.8,251.3 259.9,252.3 260.5,252.2 261.1,252.0 261.2,251.0 261.1,249.9 262.6,251.2 262.7,250.4 263.3,250.2 263.3,249.3 264.1,249.6 264.9,249.8 264.6,248.4 264.8,247.8 266.1,249.0 266.4,248.4 267.0,248.4 266.6,246.8 267.5,247.2 268.0,247.0 268.8,247.3 269.1,246.9 268.9,245.6 270.0,246.4 269.6,244.8 270.9,245.8 270.5,244.2 271.2,244.4 271.8,244.4 272.4,244.3 272.6,243.6 273.2,243.6 273.8,243.5 274.0,242.8 274.3,242.4 274.5,241.7 275.0,241.5 275.2,240.9 276.4,241.6 276.7,241.2 277.2,240.9 277.7,240.7 278.1,240.3 277.7,238.8 279.0,239.6 279.4,239.1 279.4,238.2 280.1,238.1 280.7,237.9 281.1,237.5 281.6,237.1 281.1,235.7 282.0,235.7 282.6,235.4 282.7,234.6 282.7,233.8 283.8,233.9 283.0,232.5 283.7,232.2 283.3,231.3 284.8,231.9 284.8,231.3 285.0,231.0 285.2,230.8 281.8,228.1 281.5,228.3 281.9,229.1 281.3,229.2 280.9,229.5 281.4,230.5 280.6,230.5 280.0,230.8 278.8,230.5 278.5,230.9 278.9,232.0 277.7,231.6 277.2,231.7 276.8,231.9 276.5,232.2 277.2,233.7 276.9,234.2 275.7,233.5 275.7,234.3 275.1,234.4 274.6,234.7 273.8,234.5 273.3,234.7 272.7,234.7 272.2,235.0 271.8,235.3 272.4,237.0 271.2,236.3 271.4,237.4 270.1,236.4 270.1,237.3 270.1,238.2 268.9,237.3 268.4,237.5 268.1,237.8 267.8,238.4 267.6,239.0 266.7,238.5 266.3,238.8 266.4,239.8 265.5,239.3 265.0,239.5 264.6,239.8 264.8,241.1 263.8,240.3 263.4,240.6 263.8,242.3 262.7,241.4 262.2,241.5 261.7,241.8 261.2,241.8 260.8,242.3 260.4,242.5 260.5,243.7 259.5,243.1 259.2,243.8 258.4,243.5 258.0,243.7 258.1,244.8 257.2,244.3 256.8,244.5 256.8,245.5 256.3,245.3 256.2,246.0 255.8,246.0 255.1,245.5 255.1,246.6 254.3,245.5 253.9,245.6 253.7,246.8 253.0,246.0 252.5,246.2 252.2,247.3 251.5,246.9 251.1,247.8 250.1,246.7 250.1,248.1 249.3,247.3 249.1,248.4 248.7,248.5 248.4,249.2 247.7,248.6 247.4,249.3 246.5,248.2 246.5,250.0 245.7,249.4 245.0,249.6 244.5,248.9 244.4,250.1 243.6,248.8 243.4,249.8 242.8,249.0 242.3,249.2 242.0,249.8 241.5,249.8 241.0,250.2 240.5,250.0 240.0,250.0 239.6,250.7 238.9,250.1 238.4,250.4 237.9,250.7 237.5,251.3 236.8,250.5 236.5,251.5 235.9,251.3 235.2,250.7 234.9,251.8 234.4,251.7 234.0,252.4 233.6,252.8 232.8,251.4 232.2,251.3 231.7,251.3 231.2,251.5 230.6,251.5 230.4,253.3 229.9,253.4 229.1,252.1 228.6,252.2 228.2,253.2 227.5,252.1 227.0,252.4 226.4,252.2 225.9,252.4 225.6,253.2 225.2,253.9 224.6,253.6 224.1,253.8 223.5,253.0 223.3,254.6 222.8,254.3 222.0,253.1 221.6,253.8 221.1,254.4 220.5,253.8 220.1,254.9 219.5,254.2 219.0,254.3 218.4,253.6 218.1,254.9 217.5,253.5 217.1,254.7 216.6,254.3 216.0,253.9 215.5,254.1 215.0,254.7 214.4,254.0 213.9,254.0 213.4,254.1 213.1,255.6 212.5,254.8 211.9,254.4 211.4,254.6 211.0,255.2 210.5,255.1 209.9,254.7 209.6,256.1 208.9,255.3 208.4,255.2 207.9,255.2 207.6,256.7 207.0,256.5 206.4,255.7 205.9,255.3 205.4,255.3 204.9,255.3 204.4,255.8 204.0,255.7 203.5,255.6 203.1,255.7 202.6,255.6 202.2,257.0 201.7,255.7 201.3,256.5 200.8,257.4 200.3,255.8 199.8,256.9 199.3,256.0 198.9,257.6 198.3,256.4 197.7,256.7 197.2,256.2 196.6,255.9 196.0,257.0 195.5,258.0 194.8,256.4 194.3,256.2 194.0,257.7 193.4,256.2 192.9,256.2 192.6,257.4 192.0,256.3 191.6,256.9 191.0,256.6 190.6,256.6 190.1,257.3 189.5,256.5 189.1,257.6 188.6,257.5 188.0,257.0 187.6,257.6 187.0,257.3 186.5,257.4 185.9,257.0 185.4,256.9 184.9,257.8 184.4,257.4 183.9,257.2 183.5,258.9 182.8,257.0 182.3,257.0 181.9,258.7 181.3,257.1 180.8,257.3 180.3,257.1 179.9,258.5 179.4,258.7 178.8,257.8 178.3,257.5 177.8,257.4 177.3,258.9 176.8,258.1 176.2,257.6 175.7,257.4 175.2,258.4 174.6,258.0 174.1,257.7 173.6,257.5 173.0,258.1 172.5,257.9 172.0,257.6 171.5,259.0 170.9,258.1 170.4,257.7 169.9,257.6 169.5,259.3 169.0,259.4 168.5,258.9 168.0,259.0 167.5,257.9 167.0,257.8 166.6,259.2 166.1,257.8 165.7,257.8 165.3,259.6 164.9,257.9 164.2,258.0 163.6,258.7 163.0,258.5 162.4,259.0 161.9,259.9 161.3,258.0 160.8,258.1 160.3,259.2 159.8,258.3 159.4,259.4 159.0,260.0 158.6,259.9 158.1,259.3 157.7,259.3 157.2,258.7 156.8,258.4 156.3,258.3 155.7,258.3 155.1,258.6 154.6,259.1 154.0,258.4 153.6,259.2 153.1,259.8 152.6,260.0 152.1,259.2 151.6,259.4 151.0,259.0 150.5,258.7 150.1,259.8 149.6,259.3 149.0,258.8 148.5,259.4 148.0,259.4 147.6,260.8 147.0,260.7 146.4,260.7 145.7,259.1 145.2,259.7 144.5,259.2 143.9,259.4 143.2,259.4 142.7,259.6 142.1,259.7 141.6,260.3 141.3,261.1 140.4,260.2 140.0,260.6 139.7,261.4 138.8,260.7 138.5,261.4 137.9,261.0 137.4,261.2 137.5,263.1 136.5,261.8 135.9,261.7 135.6,262.6 135.5,263.8 135.0,264.1 133.9,262.6 133.4,262.7 133.0,263.1 132.5,263.3 132.6,265.0 131.6,263.8 131.1,263.7 130.7,264.2 130.5,265.1 130.1,265.2 129.5,265.0 128.8,264.6 128.4,264.6 127.9,264.8 127.4,264.8 127.5,266.8 126.6,265.4 126.4,266.6 125.5,265.3 125.2,266.1 124.5,265.9 124.2,266.5 124.0,267.6 123.0,266.1 123.1,268.1 122.0,266.4 121.7,267.1 121.6,268.4 120.6,266.9 120.1,267.0 119.7,267.4 119.6,268.9 118.7,267.4 118.4,268.1 117.9,267.6 117.7,269.3 116.9,267.9 116.4,268.0 116.0,268.4 115.5,268.6 115.0,268.2 114.8,269.9 114.2,269.7 113.5,268.6 113.0,268.6 112.7,269.7 112.1,268.9 111.7,270.0 111.2,270.1 110.7,270.7 109.9,269.2 109.3,269.3 108.8,269.8 108.2,269.7 107.7,270.3 107.2,269.6 106.8,270.2 106.5,271.2 106.1,270.1Z" fill="#8000ff" stroke="#8000ff" stroke-width="1.0" stroke-linejoin="round"/>
</g>
<path d="M411,125.8 Q373.75,92.6 352.5,49" fill="none" stroke="#ff0000" stroke-width="2.5" stroke-dasharray="7.6 4.2"/>
<path d="M349.5,43 L360.6,55.6 L357.1,57.1 L353.1,58.6 Z" fill="#ff0000"/>
<path d="M145.7,262.4 L211,272.7" fill="none" stroke="#0000ff" stroke-width="2.5" stroke-dasharray="5.7 4.8"/>
<path d="M226.7,275.1 L210.4,268.9 L212.2,272.7 L211.2,277 Z" fill="#0000ff"/>
<rect x="91.75" y="8.75" width="383" height="308.5" fill="none" stroke="#000" stroke-width="2.5"/>
<line x1="91.75" y1="52.84" x2="99" y2="52.84" stroke="#000" stroke-width="1.8"/>
<line x1="91.75" y1="140.97" x2="99" y2="140.97" stroke="#000" stroke-width="1.8"/>
<line x1="91.75" y1="229.10" x2="99" y2="229.10" stroke="#000" stroke-width="1.8"/>
<line x1="91.75" y1="96.91" x2="95.5" y2="96.91" stroke="#000" stroke-width="1.8"/>
<line x1="91.75" y1="185.03" x2="95.5" y2="185.03" stroke="#000" stroke-width="1.8"/>
<line x1="91.75" y1="273.16" x2="95.5" y2="273.16" stroke="#000" stroke-width="1.8"/>
<line x1="130.30" y1="317.3" x2="130.30" y2="310" stroke="#000" stroke-width="1.8"/>
<line x1="206.90" y1="317.3" x2="206.90" y2="310" stroke="#000" stroke-width="1.8"/>
<line x1="283.50" y1="317.3" x2="283.50" y2="310" stroke="#000" stroke-width="1.8"/>
<line x1="360.10" y1="317.3" x2="360.10" y2="310" stroke="#000" stroke-width="1.8"/>
<line x1="436.70" y1="317.3" x2="436.70" y2="310" stroke="#000" stroke-width="1.8"/>
<line x1="168.60" y1="317.3" x2="168.60" y2="313.5" stroke="#000" stroke-width="1.8"/>
<line x1="245.20" y1="317.3" x2="245.20" y2="313.5" stroke="#000" stroke-width="1.8"/>
<line x1="321.80" y1="317.3" x2="321.80" y2="313.5" stroke="#000" stroke-width="1.8"/>
<line x1="398.40" y1="317.3" x2="398.40" y2="313.5" stroke="#000" stroke-width="1.8"/>
<g clip-path="url(#cRR)">
<path d="M597.3,272.6 597.6,272.6 598.0,272.9 598.4,271.5 598.9,274.1 599.4,270.5 599.9,270.8 600.5,271.4 601.1,271.0 601.7,272.2 602.4,270.1 603.0,271.7 603.7,269.3 604.4,271.9 605.0,270.5 605.7,271.2 606.4,268.2 607.0,268.8 607.7,267.7 608.3,267.5 608.9,267.4 609.5,269.0 610.0,266.7 610.6,266.6 611.2,266.2 611.8,268.6 612.4,265.7 613.0,265.5 613.5,265.2 614.1,262.0 614.6,266.1 615.2,264.6 615.7,264.2 616.2,264.0 616.8,264.2 617.3,264.3 617.8,265.9 618.4,259.7 618.9,265.3 619.4,263.9 620.0,262.9 620.6,263.3 621.1,263.0 621.7,263.2 622.2,261.5 622.8,262.1 623.3,261.1 623.9,262.5 624.4,260.9 625.0,261.1 625.6,261.1 626.1,260.8 626.7,260.5 627.2,261.5 627.8,259.0 628.3,260.6 628.9,258.2 629.4,258.4 630.0,259.7 630.5,254.8 631.1,256.7 631.6,256.6 632.1,256.3 632.6,257.2 633.2,255.7 633.7,256.7 634.2,256.3 634.7,254.9 635.3,256.7 635.8,254.9 636.3,255.6 636.8,254.2 637.4,253.8 637.9,255.1 638.4,252.2 638.9,251.5 639.5,251.9 640.0,252.7 640.5,250.5 641.1,252.3 641.6,252.5 642.1,249.7 642.6,251.3 643.2,251.0 643.7,251.4 644.2,249.1 644.7,248.7 645.3,248.3 645.8,247.8 646.3,247.7 646.8,249.1 647.4,247.5 647.9,246.1 648.4,246.0 648.9,247.0 649.5,245.2 650.0,245.3 650.5,245.6 651.1,245.2 651.6,245.7 652.1,245.9 652.6,243.1 653.2,242.7 653.7,242.3 654.2,243.3 654.7,242.3 655.3,241.3 655.8,241.6 656.3,240.6 656.8,240.1 657.4,241.5 657.9,237.2 658.4,239.1 658.9,238.8 659.5,240.3 660.0,238.5 660.5,239.6 661.0,239.2 661.5,239.4 662.0,237.3 662.5,237.1 663.0,237.4 663.5,236.3 664.0,236.1 664.4,234.7 664.9,234.5 665.4,234.8 665.9,235.2 666.5,235.4 667.0,235.5 667.6,234.1 668.1,233.1 668.7,233.7 669.4,233.2 670.0,231.1 670.4,231.9 670.8,233.8 671.2,231.5 671.6,233.1 672.1,232.1 672.5,228.2 672.9,230.0 673.4,230.1 673.9,231.7 674.3,228.4 674.8,228.4 675.3,228.7 675.7,227.4 676.2,226.8 676.7,227.6 677.2,226.1 677.7,226.0 678.2,226.9 678.7,226.8 679.2,224.9 679.6,225.2 680.1,225.2 680.6,223.1 681.1,223.6 681.6,224.0 682.1,221.8 682.6,221.5 683.1,221.3 683.6,222.9 684.1,221.9 684.5,222.1 685.0,219.4 685.4,218.7 685.8,220.3 686.2,217.7 686.6,218.3 687.0,216.9 687.3,216.5 687.7,217.3 688.1,215.8 688.4,217.0 688.8,216.2 689.2,215.9 689.5,215.3 689.9,215.9 690.3,214.6 690.6,212.7 691.0,212.3 691.4,214.6 691.8,212.6 692.1,211.5 692.5,210.5 692.9,211.0 693.3,209.6 693.7,211.0 694.1,211.0 694.5,203.9 694.9,207.9 695.3,209.9 695.7,206.8 696.2,205.9 696.6,207.6 697.1,204.9 697.5,204.2 698.0,203.6 698.5,203.6 699.0,204.5 699.5,204.2 700.0,201.9 700.3,200.9 700.6,200.9 700.9,199.9 701.3,199.6 701.6,199.3 701.9,200.7 702.3,198.8 702.6,198.4 703.0,199.1 703.4,198.6 703.7,196.7 704.1,196.3 704.5,195.8 704.9,195.8 705.2,195.6 705.6,194.8 706.0,195.4 706.4,194.6 706.8,194.3 707.2,194.4 707.6,193.8 708.0,192.3 708.4,191.9 708.8,193.3 709.2,190.3 709.6,192.2 710.1,191.9 710.5,189.5 710.9,191.1 711.3,189.6 711.7,188.1 712.1,186.6 712.5,188.7 713.0,187.2 713.4,185.1 713.8,185.0 714.2,184.3 714.6,183.6 715.0,184.2 715.4,184.0 715.8,185.1 716.2,182.2 716.6,181.9 717.0,180.6 717.4,181.2 717.8,179.6 718.2,179.6 718.6,178.8 718.9,178.2 719.3,180.0 719.7,178.9 720.1,178.7 720.4,176.4 720.8,175.9 721.1,175.7 721.5,175.3 721.8,175.3 722.1,176.6 722.5,174.4 722.8,173.5 723.1,172.9 723.4,175.0 723.7,173.6 724.0,171.9 724.5,171.2 724.9,170.9 725.4,170.0 725.8,169.4 726.2,169.2 726.6,168.2 727.0,167.7 727.4,167.7 727.8,166.3 728.1,168.3 728.5,166.4 728.9,165.4 729.2,164.9 729.5,163.6 729.9,164.8 730.2,163.2 730.5,162.0 730.8,163.8 731.1,161.6 731.4,160.5 731.7,161.9 732.0,159.5 732.3,159.2 732.6,158.6 732.9,160.1 733.2,157.9 733.5,158.8 733.7,158.2 734.0,156.1 734.3,155.6 734.6,156.7 734.9,154.8 735.2,154.4 735.5,154.9 735.8,155.3 736.1,153.0 736.4,152.2 736.7,151.6 737.0,151.3 737.3,152.7 737.6,151.4 738.0,149.7 738.3,149.2 738.6,148.8 738.9,147.9 739.3,149.7 739.6,146.9 739.9,147.4 740.2,146.8 740.5,146.9 740.8,145.1 741.1,146.6 741.5,140.6 741.8,145.3 742.1,145.3 742.4,145.0 742.7,141.8 743.0,141.7 743.3,140.8 743.6,141.6 743.9,140.2 744.2,138.1 744.5,136.1 744.8,138.8 745.1,140.0 745.4,137.2 745.7,137.0 746.0,137.3 746.3,135.8 746.6,137.6 746.9,134.9 747.2,134.2 747.5,133.6 747.8,133.8 748.1,133.5 748.4,132.4 748.7,133.0 749.0,131.0 749.3,130.8 749.6,130.1 749.9,130.1 750.2,128.8 750.5,130.0 750.8,130.0 751.1,129.1 751.4,128.1 751.7,128.2 752.0,127.0 752.3,125.0 752.6,124.5 752.9,126.7 753.2,124.5 753.5,122.8 753.8,123.8 754.1,121.7 754.4,121.4 754.7,121.0 755.0,120.5 755.3,119.5 755.6,119.1 755.9,118.4 756.1,118.1 756.4,117.5 756.7,117.1 757.0,119.3 757.2,116.3 757.5,116.5 757.7,117.0 758.0,115.0 758.3,113.7 758.5,114.0 758.7,112.7 759.0,113.9 759.2,113.5 759.5,111.6 759.8,110.6 760.1,110.4 760.3,110.6 760.6,109.1 760.9,108.3 761.1,107.7 761.4,107.6 761.7,106.7 761.9,108.2 762.1,108.2 762.4,105.2 762.6,105.5 762.8,104.0 763.0,103.5 763.3,104.9 763.5,103.0 763.7,102.1 763.9,101.1 764.1,100.5 764.3,101.1 764.4,102.5 764.6,102.0 764.8,101.6 765.0,99.5 765.2,98.6 765.3,98.9 765.5,97.9 765.8,97.4 766.1,96.2 766.4,96.6 766.6,94.3 766.8,95.9 767.0,93.6 767.2,92.7 767.4,94.5 767.6,92.4 767.8,92.6 768.0,91.2 768.2,90.8 768.5,90.9 769.0,91.6 769.5,89.6 770.1,89.8 770.7,89.5 771.3,89.3 771.9,90.2 772.6,90.3 773.1,88.9 773.6,88.4 774.2,88.4 774.8,88.2 775.4,88.5 776.0,87.3 776.5,88.3 777.1,86.8 777.7,87.2 778.3,89.1 778.9,88.1 779.4,85.9 780.0,85.8 780.5,85.5 781.1,85.3 781.7,85.1 782.2,81.7 782.8,86.9 783.3,85.1 783.9,84.8 784.5,83.8 785.0,82.9 785.5,84.1 786.1,85.1 786.6,83.1 787.2,82.9 787.7,83.7 788.3,81.8 788.9,81.2 789.6,81.4 790.1,81.7 790.6,81.8 791.0,80.9 791.5,81.0 792.0,80.9 792.5,81.0 793.0,80.0 793.5,79.9 794.1,82.4 794.7,79.7 795.3,80.2 796.0,79.3 796.7,78.8 797.5,78.8 797.9,81.0 798.4,80.0 798.9,77.8 799.3,78.8 799.8,78.4 800.3,78.5 800.8,78.8 801.4,77.3 801.9,78.1 802.4,77.6 803.0,76.3 803.5,75.9 804.1,75.6 804.7,75.7 805.3,76.5 805.9,76.5 806.5,74.9 807.1,75.1 807.7,74.5 808.3,74.2 808.9,75.2 809.5,75.4 810.1,74.3 810.8,73.6 811.4,72.7 812.0,73.5 812.5,75.0 813.1,74.0 813.6,73.1 814.1,74.2 814.7,74.3 815.2,73.0 815.7,71.5 816.3,71.8 816.8,71.7 817.4,72.9 817.9,71.4 818.5,70.6 819.1,72.1 819.6,71.6 820.2,70.2 820.8,72.4 821.4,69.6 821.9,69.7 822.5,69.2 823.1,70.5 823.7,68.9 824.3,69.1 824.9,69.1 825.6,69.4 826.2,68.6 826.8,71.0 827.4,70.6 828.1,69.3 828.7,67.8 829.3,69.8 830.0,68.9 830.6,69.3 831.1,70.1 831.7,67.5 832.2,68.1 832.8,67.6 833.4,66.9 834.0,67.1 834.6,67.5 835.2,66.7 835.8,67.8 836.4,68.1 837.0,69.2 837.6,69.2 838.2,68.0 838.8,66.3 839.5,68.0 840.1,65.9 840.7,68.1 841.3,68.3 842.0,65.8 842.6,67.2 843.2,65.6 843.9,64.4 844.5,65.4 845.1,67.1 845.8,65.4 846.4,67.7 847.0,66.1 847.6,65.7 848.3,65.1 848.9,65.4 849.5,65.6 850.1,65.5 850.8,63.7 851.4,65.0 852.0,64.9 852.6,65.4 853.2,64.6 853.8,64.5 854.5,64.4 855.1,64.3 855.7,65.6 856.4,66.7 857.0,64.3 857.7,64.1 858.3,66.8 859.0,65.8 859.6,64.1 860.3,64.7 860.9,64.0 861.6,63.8 862.2,66.5 862.9,65.1 863.5,65.5 864.2,63.5 864.8,64.6 865.5,63.4 866.1,65.6 866.7,65.0 867.3,64.8 868.0,65.1 868.6,64.4 869.2,63.1 869.8,64.4 870.3,63.4 870.9,64.4 871.5,65.5 872.0,65.7 872.5,60.3 873.1,63.5 873.6,63.9 874.1,62.8 874.5,64.0 875.0,63.4 875.9,64.1 876.7,65.3 877.5,65.6 878.3,62.6 878.9,64.2 879.6,63.9 880.2,62.7 880.8,62.6 881.3,63.2 881.9,64.3 882.4,63.8 882.9,62.4 883.5,63.3 884.0,63.4 884.5,62.7 885.1,63.4 885.7,62.9 886.3,63.1 886.9,63.8 887.6,63.2 888.2,63.0 888.8,63.1 889.4,64.1 890.1,63.1 890.7,63.4 891.3,62.5 891.9,63.6 892.6,60.2 893.2,64.5 893.8,64.1 894.5,63.9 895.1,62.4 895.7,65.0 896.3,63.0 897.0,63.6 897.6,62.3 898.2,65.2 898.9,63.9 899.5,63.6 900.1,61.0 900.7,62.2 901.4,62.3 902.0,64.0 902.6,63.6 903.2,62.2 903.9,64.4 904.5,62.6 905.1,65.0 905.8,62.1 906.4,62.6 907.0,62.1 907.6,64.3 908.3,59.3 908.9,64.1 909.5,61.9 910.2,64.2 910.8,62.0 911.4,62.2 912.0,62.3 912.7,62.1 913.3,62.1 913.9,62.6 914.6,63.0 915.2,62.4 915.8,62.7 916.4,62.0 917.1,62.9 917.7,63.9 918.3,62.4 919.0,64.7 919.6,61.9 920.2,61.9 920.8,61.0 921.4,62.8 922.1,62.1 922.7,61.6 923.3,61.5 923.9,61.5 924.5,61.4 925.1,64.0 925.8,61.4 926.4,61.1 927.0,61.2 927.6,63.7 928.2,61.0 928.8,60.8 929.4,60.9 930.1,63.5 930.7,62.0 931.3,60.8 931.9,61.8 932.5,61.1 933.2,57.2 933.8,60.6 934.4,60.3 935.1,61.1 935.7,59.3 936.3,62.2 936.9,61.5 937.6,56.4 938.2,59.8 938.8,62.3 939.5,59.8 940.1,59.7 940.7,59.6 941.3,60.1 942.0,59.7 942.6,59.7 943.2,59.6 943.8,61.6 944.4,60.7 945.0,59.0 945.6,58.9 946.2,59.1 946.8,59.7 947.4,59.9 948.0,59.5 948.5,59.6 949.1,58.4 949.7,58.4 950.3,60.3 950.9,56.6 951.5,60.8 952.1,57.9 952.7,60.2 953.3,57.7 953.9,57.3 954.5,56.5 955.0,58.5 955.6,54.8 956.2,57.9 956.8,55.4 957.4,56.1 957.9,57.9 958.5,57.2 959.1,57.6 959.7,57.0 960.3,55.1 960.8,54.7 961.4,57.4 962.0,54.9 962.5,54.6 963.1,56.6 963.6,54.7 964.2,54.2 964.7,53.2 965.2,53.2 965.7,53.9 966.3,48.5 966.8,51.6 967.3,51.8 967.8,50.8 968.3,52.9 968.9,52.6 969.3,51.2 969.8,49.3 970.3,49.1 970.8,50.2 971.3,49.6 971.8,47.7 972.2,48.6 972.7,49.8 973.2,47.6 973.6,48.4 974.1,46.1 974.5,45.7 975.0,46.2 975.5,44.6 975.9,46.5 976.4,43.5 976.9,43.2 977.3,42.9 977.8,42.6 978.2,43.5 978.6,41.1 979.1,39.7 979.5,42.9 979.9,40.6 980.3,40.0 980.8,38.7 981.2,40.9 981.6,39.5 982.0,37.7 982.4,37.7 982.9,36.3 983.3,36.0 983.7,35.4 984.2,36.6 984.6,36.5 985.0,34.7 985.4,33.3 985.8,32.7 986.3,33.2 986.7,32.1 987.0,31.3 987.4,30.8 987.8,32.6 988.2,30.1 988.5,31.0 988.9,29.1 989.3,28.4 989.6,28.0 990.0,28.1 990.3,26.8 990.6,26.4 990.9,25.6 991.2,25.0 991.5,24.7 991.8,25.7 992.1,24.4 992.4,25.7 992.7,22.5 993.0,21.8 993.3,21.1 993.6,23.2 993.9,20.1 994.2,19.4 994.5,19.3 994.8,18.5 995.0,17.6 995.3,12.5 995.5,16.5 995.8,16.8 996.0,16.0 996.3,16.3 996.5,15.1 996.7,13.6 996.9,15.5 997.1,15.2 997.3,13.7 997.5,13.8 997.7,13.2 997.9,11.9 998.1,10.7 998.2,9.4 998.4,9.4 998.5,8.7 998.7,9.0 998.8,9.6 999.0,8.3 999.1,7.0 999.2,7.0 999.3,7.9 999.4,8.6 999.4,7.3 999.5,6.3 999.5,5.6 999.5,11.7 999.5,13.9 999.4,14.3 999.4,14.2 999.3,15.6 999.2,17.0 999.1,20.2 999.0,20.2 998.8,22.3 998.7,20.4 998.5,23.2 998.4,24.1 998.2,22.6 998.1,25.6 997.9,24.7 997.7,25.2 997.5,27.7 997.3,27.7 997.1,29.0 996.9,29.7 996.7,28.7 996.5,30.3 996.3,30.3 996.0,30.4 995.8,32.1 995.5,32.6 995.3,33.3 995.0,34.3 994.8,34.5 994.5,38.3 994.2,36.4 993.9,35.3 993.6,36.5 993.3,37.9 993.0,36.3 992.7,38.7 992.4,39.7 992.1,37.6 991.8,40.6 991.5,40.8 991.2,41.6 990.9,40.9 990.6,46.8 990.3,43.5 990.0,42.0 989.6,44.6 989.3,46.1 988.9,45.0 988.5,45.6 988.2,46.5 987.8,44.6 987.4,47.5 987.0,46.2 986.7,48.3 986.3,48.8 985.8,49.2 985.4,49.1 985.0,48.8 984.6,50.6 984.2,51.0 983.7,49.6 983.3,51.3 982.9,52.3 982.4,50.9 982.0,52.4 981.6,52.3 981.2,52.3 980.8,51.5 980.3,54.9 979.9,55.3 979.5,55.3 979.1,55.9 978.6,56.8 978.2,56.7 977.8,60.2 977.3,57.2 976.9,56.5 976.4,57.5 975.9,58.8 975.5,59.2 975.0,57.8 974.5,59.9 974.1,60.1 973.6,58.2 973.2,60.2 972.7,60.6 972.2,61.7 971.8,62.3 971.3,61.2 970.8,61.4 970.3,62.5 969.8,62.9 969.3,63.8 968.9,61.7 968.3,64.6 967.8,64.0 967.3,62.9 966.8,66.6 966.3,64.8 965.7,66.2 965.2,66.4 964.7,68.1 964.2,65.3 963.6,67.2 963.1,67.5 962.5,67.3 962.0,66.1 961.4,66.4 960.8,68.4 960.3,67.6 959.7,69.7 959.1,67.8 958.5,67.0 957.9,69.2 957.4,68.9 956.8,69.3 956.2,69.2 955.6,70.2 955.0,69.5 954.5,70.5 953.9,68.9 953.3,69.3 952.7,70.5 952.1,70.5 951.5,70.1 950.9,71.5 950.3,71.5 949.7,71.3 949.1,71.2 948.5,71.7 948.0,71.9 947.4,69.3 946.8,69.8 946.2,71.2 945.6,69.5 945.0,72.0 944.4,70.7 943.8,72.6 943.2,71.2 942.6,71.9 942.0,72.8 941.3,72.9 940.7,72.0 940.1,73.0 939.5,73.1 938.8,73.2 938.2,73.3 937.6,73.4 936.9,73.4 936.3,72.4 935.7,71.3 935.1,73.5 934.4,73.0 933.8,73.7 933.2,73.8 932.5,73.9 931.9,72.8 931.3,71.9 930.7,74.1 930.1,74.0 929.4,72.7 928.8,73.4 928.2,73.2 927.6,74.2 927.0,74.5 926.4,74.6 925.8,72.7 925.1,73.8 924.5,74.8 923.9,73.7 923.3,74.3 922.7,74.3 922.1,73.3 921.4,75.0 920.8,72.1 920.2,72.9 919.6,72.4 919.0,72.7 918.3,74.8 917.7,73.9 917.1,75.0 916.4,78.5 915.8,74.5 915.2,74.9 914.6,74.0 913.9,75.1 913.3,75.3 912.7,75.4 912.0,75.0 911.4,74.7 910.8,75.2 910.2,78.2 909.5,75.1 908.9,74.6 908.3,73.9 907.6,73.2 907.0,75.1 906.4,73.5 905.8,72.7 905.1,75.4 904.5,73.6 903.9,75.4 903.2,74.1 902.6,75.6 902.0,74.0 901.4,75.5 900.7,75.4 900.1,74.8 899.5,73.6 898.9,75.7 898.2,74.8 897.6,74.6 897.0,75.5 896.3,75.7 895.7,75.6 895.1,74.0 894.5,74.9 893.8,74.2 893.2,75.5 892.6,73.4 891.9,75.8 891.3,75.5 890.7,73.1 890.1,74.8 889.4,73.4 888.8,74.7 888.2,73.7 887.6,75.4 886.9,75.6 886.3,75.6 885.7,74.3 885.1,75.7 884.5,75.9 884.0,75.1 883.5,76.1 882.9,75.5 882.4,76.1 881.9,75.7 881.3,76.1 880.8,76.1 880.2,75.4 879.6,74.6 878.9,74.5 878.3,76.1 877.5,75.3 876.7,73.7 875.9,74.5 875.0,73.5 874.5,75.8 874.1,75.9 873.6,76.1 873.1,74.7 872.5,75.6 872.0,74.6 871.5,76.1 870.9,73.7 870.3,76.2 869.8,74.7 869.2,76.4 868.6,75.8 868.0,74.3 867.3,76.6 866.7,73.7 866.1,76.4 865.5,75.3 864.8,74.2 864.2,76.0 863.5,76.5 862.9,74.8 862.2,74.3 861.6,76.8 860.9,74.8 860.3,74.3 859.6,74.6 859.0,76.9 858.3,76.9 857.7,76.4 857.0,76.2 856.4,78.4 855.7,76.9 855.1,74.6 854.5,75.8 853.8,76.6 853.2,74.8 852.6,76.9 852.0,75.2 851.4,76.9 850.8,77.3 850.1,76.4 849.5,77.6 848.9,77.7 848.3,78.0 847.6,76.7 847.0,77.6 846.4,77.1 845.8,77.9 845.1,77.2 844.5,77.2 843.9,77.7 843.2,77.9 842.6,75.5 842.0,78.2 841.3,78.2 840.7,75.5 840.1,75.8 839.5,78.4 838.8,77.4 838.2,78.2 837.6,78.1 837.0,78.2 836.4,78.5 835.8,76.9 835.2,78.5 834.6,78.7 834.0,78.8 833.4,78.8 832.8,78.9 832.2,78.3 831.7,79.2 831.1,77.2 830.6,79.4 830.0,78.7 829.3,76.9 828.7,79.3 828.1,78.8 827.4,80.0 826.8,77.4 826.2,80.0 825.6,77.6 824.9,79.9 824.3,80.0 823.7,80.1 823.1,78.9 822.5,81.2 821.9,79.1 821.4,80.6 820.8,80.4 820.2,81.7 819.6,79.4 819.1,82.1 818.5,82.4 817.9,81.3 817.4,81.6 816.8,80.6 816.3,82.9 815.7,83.0 815.2,85.2 814.7,82.1 814.1,81.2 813.6,83.9 813.1,84.0 812.5,82.6 812.0,83.6 811.4,86.9 810.8,84.2 810.1,84.2 809.5,84.9 808.9,84.6 808.3,84.4 807.7,85.1 807.1,85.9 806.5,86.5 805.9,86.7 805.3,86.6 804.7,85.9 804.1,86.8 803.5,87.3 803.0,85.3 802.4,87.3 801.9,88.5 801.4,88.1 800.8,88.3 800.3,86.2 799.8,89.4 799.3,89.6 798.9,88.6 798.4,90.8 797.9,88.1 797.5,90.1 796.7,88.7 796.0,89.2 795.3,90.1 794.7,90.3 794.1,91.6 793.5,91.5 793.0,91.5 792.5,91.2 792.0,92.3 791.5,91.8 791.0,91.0 790.6,92.1 790.1,91.7 789.6,93.2 788.9,91.3 788.3,93.7 787.7,92.5 787.2,94.4 786.6,93.5 786.1,94.8 785.5,94.6 785.0,95.0 784.5,95.0 783.9,96.0 783.3,96.2 782.8,96.5 782.2,96.1 781.7,95.0 781.1,95.9 780.5,96.9 780.0,94.7 779.4,97.2 778.9,96.8 778.3,95.4 777.7,98.2 777.1,97.6 776.5,98.6 776.0,98.8 775.4,98.6 774.8,99.4 774.2,99.9 773.6,98.7 773.1,100.1 772.6,99.5 771.9,100.2 771.3,98.7 770.7,99.7 770.1,100.7 769.5,100.4 769.0,101.5 768.5,102.4 768.2,102.9 768.0,103.4 767.8,103.7 767.6,104.4 767.4,103.4 767.2,102.6 767.0,104.0 766.8,104.8 766.6,108.6 766.4,107.4 766.1,109.0 765.8,110.0 765.5,108.8 765.3,111.3 765.2,109.0 765.0,109.8 764.8,112.3 764.6,113.0 764.4,112.4 764.3,112.0 764.1,114.0 763.9,114.7 763.7,115.0 763.5,116.9 763.3,115.4 763.0,117.0 762.8,115.9 762.6,116.8 762.4,118.6 762.1,120.2 761.9,121.1 761.7,121.2 761.4,122.8 761.1,123.4 760.9,122.5 760.6,124.8 760.3,125.1 760.1,124.9 759.8,125.9 759.5,126.1 759.2,125.3 759.0,128.3 758.7,128.4 758.5,129.8 758.3,129.9 758.0,130.7 757.7,128.3 757.5,130.7 757.2,133.2 757.0,132.8 756.7,133.4 756.4,134.0 756.1,134.4 755.9,134.1 755.6,134.9 755.3,136.1 755.0,135.3 754.7,136.1 754.4,135.9 754.1,137.5 753.8,136.0 753.5,139.4 753.2,139.6 752.9,140.6 752.6,141.2 752.3,141.4 752.0,141.2 751.7,140.9 751.4,143.2 751.1,143.6 750.8,144.6 750.5,144.5 750.2,144.2 749.9,146.2 749.6,146.7 749.3,147.2 749.0,146.8 748.7,147.1 748.4,146.7 748.1,147.5 747.8,148.9 747.5,149.8 747.2,151.0 746.9,151.3 746.6,152.3 746.3,150.8 746.0,152.2 745.7,152.9 745.4,153.8 745.1,154.0 744.8,157.0 744.5,155.6 744.2,155.1 743.9,157.1 743.6,157.5 743.3,157.7 743.0,158.4 742.7,158.7 742.4,157.6 742.1,160.2 741.8,158.1 741.5,161.4 741.1,161.8 740.8,161.0 740.5,161.7 740.2,163.5 739.9,164.1 739.6,165.0 739.3,164.9 738.9,165.5 738.6,164.5 738.3,166.5 738.0,166.9 737.6,168.5 737.3,168.3 737.0,168.4 736.7,169.4 736.4,169.6 736.1,168.3 735.8,169.9 735.5,171.4 735.2,171.1 734.9,171.7 734.6,172.6 734.3,173.2 734.0,173.2 733.7,174.1 733.5,171.7 733.2,177.5 732.9,173.6 732.6,175.8 732.3,175.4 732.0,176.6 731.7,177.1 731.4,175.3 731.1,177.6 730.8,181.2 730.5,178.1 730.2,179.5 729.9,178.3 729.5,179.5 729.2,178.4 728.9,180.8 728.5,181.7 728.1,181.9 727.8,182.5 727.4,183.5 727.0,182.5 726.6,184.5 726.2,187.5 725.8,184.6 725.4,186.2 724.9,185.7 724.5,187.5 724.0,188.0 723.7,186.0 723.4,186.8 723.1,189.5 722.8,188.7 722.5,190.3 722.1,190.7 721.8,191.1 721.5,191.0 721.1,191.1 720.8,190.2 720.4,192.9 720.1,193.5 719.7,193.1 719.3,194.0 718.9,192.6 718.6,195.3 718.2,196.0 717.8,196.5 717.4,195.4 717.0,196.0 716.6,197.5 716.2,197.6 715.8,197.0 715.4,197.9 715.0,199.5 714.6,199.3 714.2,200.2 713.8,200.8 713.4,202.1 713.0,202.4 712.5,202.0 712.1,203.8 711.7,202.3 711.3,204.6 710.9,203.4 710.5,205.0 710.1,206.4 709.6,206.6 709.2,206.5 708.8,206.8 708.4,207.0 708.0,209.0 707.6,207.1 707.2,208.0 706.8,210.5 706.4,211.0 706.0,208.6 705.6,213.8 705.2,211.3 704.9,213.0 704.5,213.3 704.1,213.4 703.7,214.4 703.4,214.5 703.0,215.0 702.6,214.4 702.3,215.3 701.9,216.5 701.6,221.4 701.3,216.1 700.9,217.4 700.6,216.7 700.3,218.3 700.0,218.2 699.5,219.6 699.0,219.9 698.5,220.0 698.0,221.0 697.5,219.7 697.1,221.4 696.6,221.9 696.2,223.1 695.7,221.8 695.3,225.3 694.9,223.8 694.5,224.9 694.1,225.1 693.7,225.2 693.3,224.5 692.9,226.5 692.5,226.9 692.1,227.0 691.8,226.0 691.4,228.2 691.0,228.4 690.6,227.3 690.3,227.3 689.9,226.9 689.5,227.8 689.2,227.8 688.8,229.9 688.4,230.5 688.1,231.2 687.7,231.6 687.3,230.3 687.0,231.4 686.6,229.8 686.2,232.7 685.8,232.4 685.4,232.7 685.0,233.6 684.5,232.0 684.1,234.6 683.6,232.6 683.1,235.6 682.6,236.0 682.1,236.2 681.6,236.9 681.1,236.6 680.6,235.4 680.1,235.5 679.6,235.5 679.2,238.6 678.7,238.0 678.2,237.4 677.7,239.2 677.2,238.9 676.7,240.6 676.2,241.0 675.7,238.5 675.3,240.5 674.8,241.8 674.3,239.9 673.9,239.9 673.4,242.4 672.9,241.9 672.5,243.5 672.1,242.8 671.6,242.6 671.2,241.6 670.8,244.7 670.4,246.6 670.0,245.1 669.4,245.5 668.7,245.7 668.1,243.8 667.6,246.8 667.0,247.2 666.5,245.5 665.9,245.0 665.4,247.9 664.9,247.9 664.4,245.7 664.0,245.9 663.5,247.8 663.0,249.2 662.5,249.6 662.0,248.3 661.5,248.7 661.0,248.4 660.5,250.5 660.0,249.9 659.5,249.8 658.9,255.0 658.4,251.3 657.9,251.2 657.4,252.3 656.8,252.9 656.3,251.2 655.8,252.7 655.3,256.1 654.7,252.6 654.2,252.2 653.7,255.3 653.2,253.2 652.6,255.5 652.1,255.8 651.6,253.9 651.1,254.4 650.5,255.7 650.0,256.4 649.5,256.7 648.9,257.8 648.4,257.8 647.9,258.3 647.4,256.2 646.8,258.3 646.3,259.3 645.8,256.9 645.3,258.5 644.7,259.7 644.2,263.2 643.7,259.9 643.2,258.6 642.6,260.4 642.1,260.0 641.6,261.9 641.1,260.8 640.5,262.4 640.0,262.7 639.5,263.1 638.9,262.9 638.4,261.3 637.9,261.2 637.4,262.9 636.8,264.7 636.3,263.2 635.8,263.0 635.3,264.3 634.7,264.3 634.2,265.7 633.7,266.8 633.2,268.2 632.6,265.6 632.1,266.7 631.6,266.1 631.1,266.6 630.5,266.5 630.0,266.2 629.4,268.2 628.9,269.0 628.3,268.4 627.8,270.1 627.2,268.1 626.7,270.6 626.1,270.4 625.6,271.1 625.0,269.9 624.4,271.5 623.9,273.9 623.3,270.5 622.8,269.4 622.2,271.6 621.7,270.6 621.1,270.6 620.6,271.4 620.0,271.9 619.4,273.5 618.9,274.1 618.4,274.3 617.8,273.3 617.3,274.8 616.8,275.1 616.2,273.7 615.7,274.6 615.2,275.7 614.6,275.9 614.1,276.3 613.5,273.9 613.0,276.7 612.4,277.0 611.8,276.6 611.2,276.5 610.6,277.8 610.0,277.8 609.5,277.0 608.9,276.0 608.3,278.3 607.7,277.4 607.0,278.2 606.4,279.0 605.7,277.4 605.0,279.1 604.4,279.0 603.7,279.5 603.0,279.4 602.4,279.9 601.7,278.6 601.1,280.0 600.5,279.2 599.9,279.9 599.4,279.8 598.9,279.4 598.4,281.6 598.0,279.0 597.6,279.9 597.3,280.1Z" fill="#ff0000" stroke="#ff0000" stroke-width="1.8" stroke-linejoin="round"/>
<path d="M597.5,281.0 597.8,280.2 598.2,281.5 598.7,280.1 599.2,279.9 599.7,280.1 600.3,282.1 600.9,282.1 601.5,279.6 602.2,279.1 602.9,279.5 603.6,278.8 604.3,280.0 605.0,279.8 605.7,279.1 606.4,278.7 607.1,278.4 607.7,276.9 608.4,278.9 609.0,277.7 609.6,280.1 610.2,277.4 610.8,278.9 611.4,278.2 612.0,276.9 612.6,278.0 613.2,277.8 613.8,276.6 614.4,279.1 615.0,276.4 615.6,277.6 616.2,276.2 616.8,277.0 617.4,276.3 618.0,276.6 618.6,276.4 619.1,277.2 619.7,277.0 620.3,275.3 620.9,276.0 621.5,275.1 622.1,275.9 622.7,275.8 623.3,274.5 623.9,274.1 624.5,272.8 625.1,273.7 625.7,274.2 626.3,274.3 626.9,275.2 627.5,274.6 628.1,275.4 628.7,274.0 629.3,272.5 629.8,272.2 630.4,274.4 631.0,273.9 631.6,273.4 632.1,272.1 632.7,271.2 633.3,270.6 633.9,270.2 634.4,270.3 635.0,271.8 635.5,268.7 636.1,270.5 636.7,269.0 637.2,269.8 637.8,269.4 638.3,268.4 638.9,268.3 639.4,267.9 639.9,268.3 640.5,268.3 641.0,266.3 641.6,266.0 642.1,268.4 642.6,267.9 643.2,265.5 643.7,264.6 644.2,266.1 644.7,266.5 645.2,264.3 645.8,263.6 646.3,263.7 646.8,263.0 647.3,262.3 647.8,262.1 648.4,262.8 648.9,262.2 649.4,263.9 650.0,260.6 650.5,260.6 651.0,260.2 651.5,260.8 652.0,259.4 652.5,259.0 653.0,258.7 653.4,259.3 653.9,260.6 654.4,259.1 654.9,258.9 655.5,258.5 656.0,258.4 656.5,256.3 657.1,255.8 657.6,255.7 658.2,255.5 658.8,254.7 659.4,256.8 660.0,256.2 660.4,253.6 660.8,254.3 661.3,252.0 661.7,252.9 662.2,253.1 662.7,252.7 663.1,251.4 663.6,254.0 664.1,252.4 664.6,252.6 665.1,246.0 665.6,250.7 666.1,249.3 666.6,248.9 667.1,249.4 667.6,249.7 668.1,247.7 668.6,247.3 669.1,247.8 669.6,248.9 670.1,248.7 670.6,247.0 671.1,248.0 671.6,246.9 672.1,245.1 672.6,246.4 673.0,243.9 673.5,245.8 673.9,243.7 674.4,244.7 674.8,242.9 675.3,242.3 675.7,244.4 676.0,241.6 676.4,242.1 676.7,240.6 677.1,240.4 677.4,240.1 677.7,241.1 678.1,240.1 678.4,240.0 678.8,238.8 679.1,240.7 679.5,238.1 679.9,237.8 680.4,237.3 680.8,239.3 681.3,236.4 681.8,235.8 682.4,235.2 683.0,236.1 683.7,235.0 684.4,236.1 685.2,235.4 685.5,234.5 685.8,230.8 686.1,232.9 686.4,232.6 686.8,233.2 687.1,232.1 687.5,231.7 687.8,230.2 688.2,229.5 688.5,232.0 688.9,229.0 689.3,228.5 689.7,229.5 690.1,227.7 690.4,228.7 690.8,226.7 691.3,226.3 691.7,226.6 692.1,226.0 692.5,225.1 692.9,226.4 693.4,224.7 693.8,223.7 694.2,223.3 694.7,223.9 695.1,223.4 695.6,223.0 696.0,223.0 696.5,222.6 696.9,221.7 697.4,220.6 697.8,220.2 698.3,222.1 698.8,221.6 699.2,220.9 699.7,218.7 700.2,215.6 700.6,219.0 701.1,216.4 701.6,215.8 702.0,217.2 702.5,214.9 703.0,215.3 703.4,216.4 703.9,215.2 704.4,213.8 704.8,214.1 705.3,214.0 705.8,211.6 706.2,211.3 706.7,211.6 707.1,212.1 707.6,209.5 708.0,209.6 708.5,208.5 708.9,209.2 709.4,209.5 709.8,209.9 710.3,208.7 710.7,206.6 711.1,205.9 711.6,205.5 712.0,206.1 712.4,206.0 712.8,203.8 713.2,204.0 713.6,203.4 714.0,203.8 714.4,202.2 714.8,201.6 715.2,201.2 715.7,200.6 716.1,201.3 716.5,200.0 716.9,200.7 717.3,199.2 717.8,198.4 718.2,198.8 718.6,197.2 719.0,197.4 719.4,196.5 719.9,196.0 720.3,197.6 720.7,194.7 721.1,194.7 721.5,195.8 722.0,194.3 722.4,193.9 722.8,192.7 723.2,192.4 723.6,191.3 724.0,193.2 724.4,192.2 724.9,189.7 725.3,189.5 725.7,188.6 726.1,190.6 726.5,189.9 726.9,183.6 727.3,187.6 727.7,184.7 728.1,186.3 728.5,186.0 728.8,185.5 729.2,184.6 729.6,186.1 730.0,185.2 730.4,182.7 730.8,182.3 731.1,179.7 731.5,182.3 731.9,181.5 732.2,181.5 732.6,180.8 732.9,180.1 733.3,180.4 733.7,179.6 734.0,178.3 734.3,177.8 734.7,177.3 735.0,177.0 735.3,178.4 735.7,177.6 736.0,178.1 736.3,174.8 736.6,175.0 736.9,174.8 737.2,173.6 737.5,174.3 737.8,173.1 738.1,172.3 738.4,172.7 738.7,171.6 739.2,170.8 739.6,170.2 740.0,169.9 740.4,169.1 740.8,170.9 741.2,170.0 741.6,168.2 741.9,166.7 742.3,167.4 742.6,166.8 742.9,164.9 743.2,165.2 743.5,165.8 743.8,163.6 744.1,163.8 744.3,162.4 744.6,163.3 744.9,161.2 745.1,160.7 745.4,161.3 745.6,161.3 745.8,160.4 746.1,161.6 746.3,160.0 746.6,157.6 746.8,157.1 747.1,159.4 747.3,158.5 747.5,158.3 747.8,157.7 748.0,156.6 748.3,154.2 748.6,153.7 748.8,155.7 749.1,153.0 749.4,152.1 749.7,151.7 750.0,151.2 750.3,152.0 750.6,150.4 750.9,149.6 751.2,151.6 751.5,148.7 751.9,149.8 752.2,148.5 752.5,147.2 752.8,146.9 753.1,146.7 753.4,144.2 753.8,146.3 754.1,144.9 754.4,146.2 754.7,144.3 755.1,144.8 755.4,144.9 755.7,144.5 756.0,141.9 756.4,141.5 756.7,141.4 757.0,143.4 757.3,140.2 757.6,141.1 758.0,139.4 758.3,138.7 758.6,139.0 758.9,137.9 759.2,138.8 759.5,137.1 759.8,136.3 760.1,135.9 760.4,135.5 760.7,135.1 761.0,134.5 761.3,135.1 761.6,136.1 761.9,134.3 762.2,135.0 762.5,132.3 762.8,131.7 763.1,133.0 763.4,132.5 763.7,129.7 764.0,131.7 764.3,128.9 764.6,128.3 764.9,130.0 765.2,127.1 765.5,127.0 765.8,125.5 766.1,125.7 766.4,124.4 766.7,121.7 766.9,124.3 767.2,123.2 767.5,121.9 767.8,121.7 768.1,121.3 768.3,120.2 768.6,119.6 768.9,121.0 769.1,118.6 769.4,119.7 769.6,119.4 769.9,117.0 770.1,118.0 770.3,116.5 770.6,115.3 770.8,115.9 771.0,117.0 771.2,115.2 771.4,113.4 771.6,113.1 771.8,113.2 772.0,112.1 772.4,113.9 772.7,112.7 773.0,110.1 773.3,109.4 773.5,110.0 773.7,110.5 773.9,107.6 774.1,108.3 774.3,106.7 774.4,106.0 774.6,105.4 774.7,105.0 774.8,104.4 775.0,105.0 775.1,105.6 775.3,105.1 775.5,103.4 775.7,103.2 776.0,101.4 776.2,101.4 776.4,100.5 776.6,100.2 776.8,99.1 777.0,99.1 777.2,98.8 777.4,98.3 777.7,97.3 777.9,97.2 778.2,96.4 778.5,96.1 778.9,95.7 779.4,97.3 779.9,96.4 780.5,95.8 781.0,96.7 781.6,92.6 782.2,94.3 782.8,94.0 783.3,95.6 783.9,94.2 784.4,94.1 785.0,94.0 785.5,92.9 786.1,92.7 786.6,94.8 787.1,93.3 787.7,92.1 788.3,94.0 788.9,92.1 789.6,93.0 790.1,91.7 790.7,92.5 791.2,90.4 791.9,90.2 792.5,91.5 793.1,89.5 793.8,91.3 794.4,88.9 795.0,89.1 795.6,88.3 796.1,85.0 796.6,88.8 797.1,87.2 797.5,88.9 798.2,87.3 798.3,86.0 798.6,88.4 800.0,85.1 800.4,85.7 800.7,84.6 801.2,84.6 801.6,86.8 802.1,84.5 802.6,85.6 803.1,84.7 803.7,86.0 804.3,83.9 804.9,84.5 805.5,83.4 806.1,84.2 806.7,84.7 807.4,83.1 808.0,82.9 808.7,82.5 809.3,82.2 810.0,83.2 810.6,81.9 811.3,82.8 811.9,83.3 812.6,82.7 813.2,81.2 813.8,79.4 814.4,81.5 815.0,81.6 815.6,81.2 816.2,81.0 816.8,82.1 817.3,81.7 817.9,80.0 818.4,80.0 819.0,80.1 819.5,79.7 820.1,80.6 820.6,81.5 821.2,79.3 821.7,79.1 822.3,80.5 822.9,80.1 823.5,80.6 824.0,79.5 824.6,78.5 825.2,78.2 825.9,78.0 826.5,78.2 827.2,78.9 827.8,78.4 828.5,78.5 829.3,77.7 830.0,78.7 830.5,76.9 831.0,78.8 831.5,76.8 832.1,76.5 832.6,78.6 833.1,76.5 833.7,76.4 834.3,78.5 834.8,75.9 835.4,75.6 836.0,76.7 836.6,77.1 837.2,75.1 837.8,75.0 838.4,76.8 839.0,76.9 839.6,75.1 840.2,75.7 840.8,73.1 841.5,74.4 842.1,75.6 842.7,76.1 843.3,73.8 844.0,74.2 844.6,73.7 845.2,75.6 845.8,73.4 846.5,74.3 847.1,74.5 847.7,74.5 848.3,72.9 849.0,72.3 849.6,73.5 850.2,72.4 850.8,74.0 851.4,72.1 852.0,71.4 852.6,71.2 853.2,72.3 853.8,72.7 854.4,70.9 855.0,70.5 855.6,72.6 856.3,71.9 856.9,71.1 857.5,71.5 858.2,71.3 858.8,71.6 859.4,69.7 860.1,69.0 860.7,68.8 861.3,68.3 862.0,70.0 862.6,69.0 863.2,70.5 863.9,67.2 864.5,67.4 865.1,67.0 865.7,67.0 866.4,66.7 867.0,66.8 867.6,66.4 868.2,66.1 868.8,67.5 869.3,66.4 869.9,65.3 870.5,65.9 871.0,65.6 871.6,66.0 872.1,66.1 872.6,65.5 873.1,66.3 873.6,64.4 874.1,66.1 874.5,63.9 875.0,66.4 875.9,65.0 876.7,63.7 877.5,63.7 878.3,64.3 878.9,65.3 879.6,63.2 880.2,65.8 880.8,65.3 881.3,63.5 881.9,64.0 882.4,62.3 882.9,64.7 883.5,64.4 884.0,65.3 884.5,63.2 885.1,62.9 885.7,64.9 886.3,64.5 886.9,62.6 887.6,63.0 888.2,64.6 888.8,64.8 889.4,64.7 890.1,64.2 890.7,65.2 891.3,62.5 891.9,62.9 892.6,65.4 893.2,63.3 893.8,63.0 894.5,62.6 895.1,62.5 895.7,63.3 896.3,64.3 897.0,64.1 897.6,64.4 898.2,64.6 898.9,63.5 899.5,62.6 900.1,62.5 900.7,62.3 901.4,62.3 902.0,62.4 902.6,63.6 903.2,63.2 903.9,63.7 904.5,65.0 905.1,63.9 905.8,64.2 906.4,64.1 907.0,62.5 907.6,62.1 908.3,62.3 908.9,64.1 909.5,62.1 910.2,63.3 910.8,62.1 911.4,63.9 912.0,63.3 912.7,64.3 913.3,62.0 913.9,62.3 914.6,62.1 915.2,62.6 915.8,62.7 916.4,64.0 917.1,62.1 917.7,64.7 918.3,62.1 919.0,60.4 919.6,62.5 920.2,61.8 920.8,64.7 921.4,62.1 922.1,61.9 922.7,61.7 923.3,61.6 923.9,61.6 924.5,61.7 925.1,63.0 925.8,61.5 926.4,61.2 927.0,61.8 927.6,61.1 928.2,62.7 928.8,61.1 929.4,61.4 930.1,63.3 930.7,63.1 931.3,60.7 931.9,60.9 932.5,63.2 933.2,63.0 933.8,61.8 934.4,60.7 935.1,58.6 935.7,61.4 936.3,59.9 936.9,62.3 937.6,59.8 938.2,60.9 938.8,59.5 939.5,59.7 940.1,56.9 940.7,60.4 941.3,59.0 942.0,56.2 942.6,59.1 943.2,58.8 943.8,59.9 944.4,61.4 945.0,58.5 945.6,59.1 946.2,60.8 946.8,60.1 947.4,58.5 948.0,58.2 948.5,59.2 949.1,60.7 949.7,57.7 950.3,58.4 950.9,57.4 951.5,58.9 952.1,58.8 952.7,57.9 953.3,59.0 953.9,57.2 954.5,58.0 955.1,56.4 955.6,58.9 956.2,56.1 956.8,57.5 957.5,55.3 958.1,55.2 958.7,54.8 959.3,57.3 959.9,54.1 960.5,54.0 961.1,53.6 961.6,54.0 962.2,55.4 962.7,50.1 963.3,52.4 963.8,53.5 964.3,51.8 964.8,51.7 965.2,53.9 965.8,51.3 966.4,53.0 966.9,50.0 967.4,50.1 967.9,51.1 968.3,44.8 968.7,50.6 969.1,47.8 969.5,47.7 969.9,46.7 970.4,47.6 970.8,45.8 971.3,46.8 971.7,45.7 972.1,44.3 972.5,44.9 972.9,44.6 973.4,43.8 973.8,43.8 974.2,43.5 974.6,41.6 975.1,43.7 975.5,43.2 976.0,40.3 976.4,39.7 976.8,40.6 977.2,38.6 977.7,40.2 978.1,38.9 978.5,38.6 978.9,38.5 979.4,36.9 979.8,35.8 980.2,35.9 980.7,34.8 981.1,35.0 981.6,35.4 982.0,33.4 982.4,34.7 982.8,33.0 983.2,33.7 983.7,32.4 984.1,30.8 984.4,32.4 984.8,30.2 985.2,30.3 985.6,28.7 986.0,28.2 986.3,28.4 986.7,29.9 987.0,24.3 987.4,27.0 987.7,26.0 988.0,26.6 988.4,22.4 988.7,24.5 989.0,26.0 989.3,24.9 989.6,18.2 989.9,22.0 990.2,22.3 990.5,20.7 990.8,20.5 991.1,20.2 991.4,20.4 991.7,21.5 992.0,19.0 992.2,20.6 992.5,17.1 992.8,16.7 993.0,19.1 993.3,16.9 993.5,16.2 993.8,14.6 994.0,15.7 994.3,14.2 994.5,14.9 994.8,12.5 995.0,8.0 995.3,11.5 995.5,11.4 995.8,11.6 996.0,10.0 996.2,11.1 996.4,9.9 996.6,9.7 996.8,10.0 997.0,7.1 997.2,9.1 997.4,6.8 997.5,7.4 997.7,6.6 997.8,5.4 997.9,6.3 998.1,7.2 998.2,5.5 998.3,5.1 998.4,6.6 998.4,4.3 998.5,5.4 998.5,11.2 998.4,10.6 998.4,15.8 998.3,11.8 998.2,14.5 998.1,15.1 997.9,16.4 997.8,16.7 997.7,19.1 997.5,17.9 997.4,19.6 997.2,20.1 997.0,22.4 996.8,22.9 996.6,24.3 996.4,24.1 996.2,24.8 996.0,23.8 995.8,24.1 995.5,27.4 995.3,26.4 995.0,28.5 994.8,27.9 994.5,29.4 994.3,29.0 994.0,30.8 993.8,31.4 993.5,31.5 993.3,30.8 993.0,33.4 992.8,33.7 992.5,34.1 992.2,35.3 992.0,34.0 991.7,34.2 991.4,37.7 991.1,34.5 990.8,38.0 990.5,37.8 990.2,38.5 989.9,39.6 989.6,39.9 989.3,40.5 989.0,43.1 988.7,41.5 988.4,41.3 988.0,39.8 987.7,41.0 987.4,40.5 987.0,43.0 986.7,43.3 986.3,42.1 986.0,43.1 985.6,43.8 985.2,46.2 984.8,46.5 984.4,46.3 984.1,46.5 983.7,47.5 983.2,48.4 982.8,52.9 982.4,52.0 982.0,49.7 981.6,48.2 981.1,48.4 980.7,48.9 980.2,49.6 979.8,51.8 979.4,52.2 978.9,50.7 978.5,53.2 978.1,53.1 977.7,52.8 977.2,54.1 976.8,52.2 976.4,53.9 976.0,55.9 975.5,55.5 975.1,56.8 974.6,56.3 974.2,56.2 973.8,58.0 973.4,58.1 972.9,58.5 972.5,57.8 972.1,58.1 971.7,59.4 971.3,59.5 970.8,60.2 970.4,59.4 969.9,59.3 969.5,60.3 969.1,61.9 968.7,62.4 968.3,62.7 967.9,63.1 967.4,63.5 966.9,62.4 966.4,61.2 965.8,64.2 965.2,63.1 964.8,65.0 964.3,65.2 963.8,63.0 963.3,65.7 962.7,63.7 962.2,66.1 961.6,65.9 961.1,66.6 960.5,67.0 959.9,67.3 959.3,67.5 958.7,65.4 958.1,66.5 957.5,68.3 956.8,66.9 956.2,67.5 955.6,67.7 955.1,69.2 954.5,69.4 953.9,69.4 953.3,69.8 952.7,67.9 952.1,70.1 951.5,69.8 950.9,69.3 950.3,70.5 949.7,67.9 949.1,70.4 948.5,68.5 948.0,71.0 947.4,70.7 946.8,70.6 946.2,70.9 945.6,71.1 945.0,71.3 944.4,69.3 943.8,71.4 943.2,70.5 942.6,69.6 942.0,70.7 941.3,71.8 940.7,70.9 940.1,71.8 939.5,71.9 938.8,69.7 938.2,70.4 937.6,71.8 936.9,71.7 936.3,71.6 935.7,75.3 935.1,73.3 934.4,72.4 933.8,72.8 933.2,72.7 932.5,71.3 931.9,72.4 931.3,71.4 930.7,72.3 930.1,72.9 929.4,71.9 928.8,73.3 928.2,73.5 927.6,71.2 927.0,72.9 926.4,71.2 925.8,73.0 925.1,72.2 924.5,71.8 923.9,74.4 923.3,74.3 922.7,71.9 922.1,72.5 921.4,72.3 920.8,73.9 920.2,74.6 919.6,73.5 919.0,73.3 918.3,74.2 917.7,72.6 917.1,75.1 916.4,75.2 915.8,73.8 915.2,73.0 914.6,74.5 913.9,74.1 913.3,72.8 912.7,76.5 912.0,74.7 911.4,72.9 910.8,75.2 910.2,75.3 909.5,72.6 908.9,74.9 908.3,75.3 907.6,75.4 907.0,75.5 906.4,76.0 905.8,75.4 905.1,72.6 904.5,75.2 903.9,75.4 903.2,75.5 902.6,75.4 902.0,74.4 901.4,75.4 900.7,73.7 900.1,73.8 899.5,72.8 898.9,75.1 898.2,75.2 897.6,76.1 897.0,73.3 896.3,73.1 895.7,74.0 895.1,75.5 894.5,73.5 893.8,75.2 893.2,75.7 892.6,73.6 891.9,75.8 891.3,75.7 890.7,74.7 890.1,75.8 889.4,72.9 888.8,76.0 888.2,75.5 887.6,73.6 886.9,74.7 886.3,74.9 885.7,73.8 885.1,74.5 884.5,74.6 884.0,75.1 883.5,76.3 882.9,75.9 882.4,73.4 881.9,76.0 881.3,76.3 880.8,76.0 880.2,76.4 879.6,74.6 878.9,77.2 878.3,76.7 877.5,76.7 876.7,75.7 875.9,76.1 875.0,75.4 874.5,74.5 874.1,74.5 873.6,76.8 873.1,74.8 872.6,75.1 872.1,75.1 871.6,77.0 871.0,78.0 870.5,76.6 869.9,76.9 869.3,78.4 868.8,77.0 868.2,78.6 867.6,78.4 867.0,78.5 866.4,77.1 865.7,79.2 865.1,79.0 864.5,78.0 863.9,78.2 863.2,79.9 862.6,77.6 862.0,80.2 861.3,80.5 860.7,80.2 860.1,80.7 859.4,80.2 858.8,80.6 858.2,80.7 857.5,79.9 856.9,80.2 856.3,81.7 855.6,81.8 855.0,80.6 854.4,79.3 853.8,80.9 853.2,82.5 852.6,81.8 852.0,81.5 851.4,82.4 850.8,82.9 850.2,83.3 849.6,81.2 849.0,83.5 848.3,83.7 847.7,81.1 847.1,83.8 846.5,83.9 845.8,83.0 845.2,82.1 844.6,84.6 844.0,84.2 843.3,83.3 842.7,85.0 842.1,82.4 841.5,84.8 840.8,85.3 840.2,84.8 839.6,85.7 839.0,84.2 838.4,85.5 837.8,85.1 837.2,85.1 836.6,85.0 836.0,86.2 835.4,85.8 834.8,85.7 834.3,86.3 833.7,85.2 833.1,86.9 832.6,85.1 832.1,87.4 831.5,87.1 831.0,86.8 830.5,87.9 830.0,87.7 829.3,87.2 828.5,87.4 827.8,88.4 827.2,87.0 826.5,88.9 825.9,86.9 825.2,86.5 824.6,88.8 824.0,89.0 823.5,88.8 822.9,87.9 822.3,87.4 821.7,87.6 821.2,89.7 820.6,90.5 820.1,90.7 819.5,90.9 819.0,90.8 818.4,91.1 817.9,90.0 817.3,91.1 816.8,90.7 816.2,90.2 815.6,92.0 815.0,92.2 814.4,92.2 813.8,91.8 813.2,92.7 812.6,91.2 811.9,93.2 811.3,91.8 810.6,95.9 810.0,93.2 809.3,94.1 808.7,94.0 808.0,94.5 807.4,94.7 806.7,95.0 806.1,93.8 805.5,94.3 804.9,94.4 804.3,93.4 803.7,96.1 803.1,96.5 802.6,96.7 802.1,96.7 801.6,96.1 801.2,95.7 800.7,97.1 800.4,97.1 800.0,96.7 798.6,97.2 798.3,98.2 798.2,96.3 797.5,96.5 797.1,97.9 796.6,97.6 796.1,99.3 795.6,99.7 795.0,99.3 794.4,100.1 793.8,100.4 793.1,100.3 792.5,101.3 791.9,101.5 791.2,101.6 790.7,102.3 790.1,101.2 789.6,100.7 788.9,102.9 788.3,103.3 787.7,103.3 787.1,102.2 786.6,103.1 786.1,104.0 785.5,104.1 785.0,104.5 784.4,102.6 783.9,103.3 783.3,105.2 782.8,103.3 782.2,104.7 781.6,106.2 781.0,104.1 780.5,105.9 779.9,104.9 779.4,108.5 778.9,107.7 778.5,110.8 778.2,109.3 777.9,109.9 777.7,108.4 777.4,109.1 777.2,111.6 777.0,110.1 776.8,113.2 776.6,113.3 776.4,113.3 776.2,113.0 776.0,115.6 775.7,113.8 775.5,116.8 775.3,118.0 775.1,117.2 775.0,116.6 774.8,117.8 774.7,118.7 774.6,120.5 774.4,120.9 774.3,121.7 774.1,119.7 773.9,121.0 773.7,123.4 773.5,121.1 773.3,122.5 773.0,125.5 772.7,125.3 772.4,126.4 772.0,126.3 771.8,125.7 771.6,128.8 771.4,129.1 771.2,129.2 771.0,129.4 770.8,128.3 770.6,130.9 770.3,131.5 770.1,129.7 769.9,131.3 769.6,132.6 769.4,131.2 769.1,133.6 768.9,134.6 768.6,133.3 768.3,134.7 768.1,134.0 767.8,136.8 767.5,136.2 767.2,137.8 766.9,138.0 766.7,137.0 766.4,140.2 766.1,140.2 765.8,140.4 765.5,139.7 765.2,141.0 764.9,140.9 764.6,140.9 764.3,142.0 764.0,141.5 763.7,144.4 763.4,145.2 763.1,143.6 762.8,146.3 762.5,145.6 762.2,147.5 761.9,148.0 761.6,148.6 761.3,149.1 761.0,149.4 760.7,149.3 760.4,150.6 760.1,148.7 759.8,150.0 759.5,150.9 759.2,152.8 758.9,150.9 758.6,152.1 758.3,154.5 758.0,153.1 757.6,155.6 757.3,156.2 757.0,154.3 756.7,157.3 756.4,157.5 756.0,157.5 755.7,157.2 755.4,159.2 755.1,159.8 754.7,160.7 754.4,160.3 754.1,161.8 753.8,161.7 753.4,162.9 753.1,161.1 752.8,162.8 752.5,162.5 752.2,163.5 751.9,165.6 751.5,166.0 751.2,166.6 750.9,165.9 750.6,166.2 750.3,167.6 750.0,172.1 749.7,168.9 749.4,167.1 749.1,168.7 748.8,170.7 748.6,170.0 748.3,172.0 748.0,172.4 747.8,172.8 747.5,172.6 747.3,172.2 747.1,172.1 746.8,174.8 746.6,175.0 746.3,173.7 746.1,175.3 745.8,175.8 745.6,176.6 745.4,177.2 745.1,177.8 744.9,178.2 744.6,179.0 744.3,179.5 744.1,180.0 743.8,179.4 743.5,179.5 743.2,181.2 742.9,180.2 742.6,182.4 742.3,183.1 741.9,183.3 741.6,183.6 741.2,185.2 740.8,182.9 740.4,183.2 740.0,185.9 739.6,186.5 739.2,190.7 738.7,186.0 738.4,187.5 738.1,186.4 737.8,193.3 737.5,189.9 737.2,192.0 736.9,190.8 736.6,189.1 736.3,189.3 736.0,191.8 735.7,192.5 735.3,193.0 735.0,193.2 734.7,193.8 734.3,193.0 734.0,192.7 733.7,195.2 733.3,194.8 732.9,194.0 732.6,196.4 732.2,195.1 731.9,197.3 731.5,196.6 731.1,195.5 730.8,198.5 730.4,198.5 730.0,201.5 729.6,199.8 729.2,198.1 728.8,199.2 728.5,200.1 728.1,202.2 727.7,201.3 727.3,202.3 726.9,203.9 726.5,202.1 726.1,203.2 725.7,205.0 725.3,205.5 724.9,204.3 724.4,205.5 724.0,204.7 723.6,207.3 723.2,207.4 722.8,207.6 722.4,208.0 722.0,209.3 721.5,209.5 721.1,207.6 720.7,210.7 720.3,209.8 719.9,211.8 719.4,212.3 719.0,212.8 718.6,212.0 718.2,212.6 717.8,213.6 717.3,213.2 716.9,214.9 716.5,214.0 716.1,216.1 715.7,215.6 715.2,215.4 714.8,217.5 714.4,217.7 714.0,216.3 713.6,216.5 713.2,217.9 712.8,218.7 712.4,219.2 712.0,220.5 711.6,219.5 711.1,221.5 710.7,220.2 710.3,222.0 709.8,222.9 709.4,222.9 708.9,221.7 708.5,222.6 708.0,223.7 707.6,225.2 707.1,224.9 706.7,224.2 706.2,226.6 705.8,226.4 705.3,227.9 704.8,227.6 704.4,228.5 703.9,226.8 703.4,229.4 703.0,228.5 702.5,229.1 702.0,234.9 701.6,233.0 701.1,229.4 700.6,231.5 700.2,231.3 699.7,232.6 699.2,231.8 698.8,234.2 698.3,233.9 697.8,235.0 697.4,235.4 696.9,235.9 696.5,236.4 696.0,236.7 695.6,234.7 695.1,236.9 694.7,236.9 694.2,236.2 693.8,236.2 693.4,239.0 692.9,238.4 692.5,243.7 692.1,240.6 691.7,241.1 691.3,241.5 690.8,241.8 690.4,242.3 690.1,242.7 689.7,240.2 689.3,243.5 688.9,243.5 688.5,244.2 688.2,244.5 687.8,244.6 687.5,245.2 687.1,243.5 686.8,245.8 686.4,244.9 686.1,244.3 685.8,246.8 685.5,246.9 685.2,247.4 684.4,247.7 683.7,247.2 683.0,249.4 682.4,249.8 681.8,250.2 681.3,250.8 680.8,249.4 680.4,251.7 679.9,255.5 679.5,252.5 679.1,255.3 678.8,253.2 678.4,253.4 678.1,251.3 677.7,253.2 677.4,254.3 677.1,253.0 676.7,254.5 676.4,253.8 676.0,255.3 675.7,254.3 675.3,255.9 674.8,255.7 674.4,255.2 673.9,255.2 673.5,254.7 673.0,257.7 672.6,256.8 672.1,259.9 671.6,257.4 671.1,259.1 670.6,258.0 670.1,259.9 669.6,260.0 669.1,259.8 668.6,260.3 668.1,261.4 667.6,261.5 667.1,260.7 666.6,262.0 666.1,260.9 665.6,263.2 665.1,263.6 664.6,262.7 664.1,263.5 663.6,264.6 663.1,263.1 662.7,263.2 662.2,263.6 661.7,266.0 661.3,265.8 660.8,266.6 660.4,266.1 660.0,265.5 659.4,266.8 658.8,267.9 658.2,267.8 657.6,268.8 657.1,268.7 656.5,267.5 656.0,269.4 655.5,273.4 654.9,269.8 654.4,269.1 653.9,270.7 653.4,270.8 653.0,271.6 652.5,271.5 652.0,270.4 651.5,272.6 651.0,271.6 650.5,272.8 650.0,273.0 649.4,273.5 648.9,273.7 648.4,274.4 647.8,274.3 647.3,274.3 646.8,275.3 646.3,275.6 645.8,275.6 645.2,274.8 644.7,276.5 644.2,274.4 643.7,276.2 643.2,276.7 642.6,277.2 642.1,277.3 641.6,277.0 641.0,278.7 640.5,276.9 639.9,278.8 639.4,277.4 638.9,278.3 638.3,278.9 637.8,278.5 637.2,279.8 636.7,278.7 636.1,281.0 635.5,281.2 635.0,279.7 634.4,280.4 633.9,280.2 633.3,282.4 632.7,282.3 632.1,282.8 631.6,282.2 631.0,283.2 630.4,282.7 629.8,284.0 629.3,284.1 628.7,284.1 628.1,283.7 627.5,284.3 626.9,282.9 626.3,283.1 625.7,283.9 625.1,285.0 624.5,283.1 623.9,284.6 623.3,286.1 622.7,284.6 622.1,286.4 621.5,286.5 620.9,286.8 620.3,284.4 619.7,286.7 619.1,284.9 618.6,287.5 618.0,287.2 617.4,286.7 616.8,285.3 616.2,287.4 615.6,288.1 615.0,288.0 614.4,287.6 613.8,288.3 613.2,288.4 612.6,288.6 612.0,288.6 611.4,286.1 610.8,288.9 610.2,288.5 609.6,289.3 609.0,288.8 608.4,289.6 607.7,288.3 607.1,288.0 606.4,289.1 605.7,291.0 605.0,290.1 604.3,289.9 603.6,288.8 602.9,289.4 602.2,290.5 601.5,289.6 600.9,290.8 600.3,290.1 599.7,290.7 599.2,289.1 598.7,290.6 598.2,290.1 597.8,290.8 597.5,290.0Z" fill="#000" stroke="#000" stroke-width="1.8" stroke-linejoin="round"/>
</g>
<rect x="578.1" y="7.9" width="421.1" height="309.3" fill="none" stroke="#000" stroke-width="2.3"/>
<line x1="578.1" y1="12.90" x2="584" y2="12.90" stroke="#000" stroke-width="1.8"/>
<line x1="578.1" y1="101.73" x2="584" y2="101.73" stroke="#000" stroke-width="1.8"/>
<line x1="578.1" y1="190.57" x2="584" y2="190.57" stroke="#000" stroke-width="1.8"/>
<line x1="578.1" y1="279.40" x2="584" y2="279.40" stroke="#000" stroke-width="1.8"/>
<line x1="578.1" y1="57.32" x2="581.5" y2="57.32" stroke="#000" stroke-width="1.8"/>
<line x1="578.1" y1="146.15" x2="581.5" y2="146.15" stroke="#000" stroke-width="1.8"/>
<line x1="578.1" y1="234.99" x2="581.5" y2="234.99" stroke="#000" stroke-width="1.8"/>
<line x1="651.30" y1="317.2" x2="651.30" y2="311.2" stroke="#000" stroke-width="1.8"/>
<line x1="738.05" y1="317.2" x2="738.05" y2="311.2" stroke="#000" stroke-width="1.8"/>
<line x1="824.80" y1="317.2" x2="824.80" y2="311.2" stroke="#000" stroke-width="1.8"/>
<line x1="911.55" y1="317.2" x2="911.55" y2="311.2" stroke="#000" stroke-width="1.8"/>
<line x1="607.92" y1="317.2" x2="607.92" y2="314" stroke="#000" stroke-width="1.8"/>
<line x1="694.67" y1="317.2" x2="694.67" y2="314" stroke="#000" stroke-width="1.8"/>
<line x1="781.42" y1="317.2" x2="781.42" y2="314" stroke="#000" stroke-width="1.8"/>
<line x1="868.17" y1="317.2" x2="868.17" y2="314" stroke="#000" stroke-width="1.8"/>
<line x1="954.92" y1="317.2" x2="954.92" y2="314" stroke="#000" stroke-width="1.8"/>
<line x1="595.3" y1="36" x2="646.3" y2="36" stroke="#ff0000" stroke-width="4"/>
<line x1="595.3" y1="63" x2="646.3" y2="63" stroke="#000" stroke-width="4.5"/>
<text transform="translate(1.79,31.42) scale(1.014,0.983)" font-size="34" fill="#000" stroke="#fff" stroke-width="0.15" style="font-family:'Liberation Serif',serif;">(a)</text>
<text transform="translate(493.35,31.64) scale(1.054,0.952)" font-size="34" fill="#000" stroke="#fff" stroke-width="0.15" style="font-family:'Liberation Serif',serif;">(b)</text>
<text transform="translate(40.77,61.90) scale(1.033,0.989)" font-size="27" fill="#000" stroke="#fff" stroke-width="0.15" style="font-family:'Liberation Serif',serif;">200</text>
<text transform="translate(39.59,149.80) scale(1.070,0.972)" font-size="27" fill="#000" stroke="#fff" stroke-width="0.15" style="font-family:'Liberation Serif',serif;">100</text>
<text transform="translate(68.99,237.60) scale(1.008,0.961)" font-size="27" fill="#000" stroke="#fff" stroke-width="0.15" style="font-family:'Liberation Serif',serif;">0</text>
<text transform="translate(39.51,326.10) scale(1.065,0.961)" font-size="27" fill="#000" stroke="#fff" stroke-width="0.15" style="font-family:'Liberation Serif',serif;">100</text>
<text transform="translate(114.94,345.30) scale(1.056,0.972)" font-size="27" fill="#000" stroke="#fff" stroke-width="0.15" style="font-family:'Liberation Serif',serif;">40</text>
<text transform="translate(191.54,345.30) scale(1.060,0.972)" font-size="27" fill="#000" stroke="#fff" stroke-width="0.15" style="font-family:'Liberation Serif',serif;">20</text>
<text transform="translate(275.58,345.30) scale(1.025,0.972)" font-size="27" fill="#000" stroke="#fff" stroke-width="0.15" style="font-family:'Liberation Serif',serif;">0</text>
<text transform="translate(346.03,345.30) scale(1.072,0.972)" font-size="27" fill="#000" stroke="#fff" stroke-width="0.15" style="font-family:'Liberation Serif',serif;">20</text>
<text transform="translate(422.94,345.30) scale(1.060,0.972)" font-size="27" fill="#000" stroke="#fff" stroke-width="0.15" style="font-family:'Liberation Serif',serif;">40</text>
<text transform="translate(558.65,21.90) scale(1.050,0.989)" font-size="27" fill="#000" stroke="#fff" stroke-width="0.15" style="font-family:'Liberation Serif',serif;">0</text>
<text transform="translate(544.85,110.68) scale(1.052,0.972)" font-size="27" fill="#000" stroke="#fff" stroke-width="0.15" style="font-family:'Liberation Serif',serif;">20</text>
<text transform="translate(544.85,199.52) scale(1.052,0.972)" font-size="27" fill="#000" stroke="#fff" stroke-width="0.15" style="font-family:'Liberation Serif',serif;">40</text>
<text transform="translate(544.85,288.35) scale(1.052,0.972)" font-size="27" fill="#000" stroke="#fff" stroke-width="0.15" style="font-family:'Liberation Serif',serif;">60</text>
<text transform="translate(636.75,345.10) scale(1.052,0.928)" font-size="27" fill="#000" stroke="#fff" stroke-width="0.15" style="font-family:'Liberation Serif',serif;">40</text>
<text transform="translate(723.42,345.10) scale(1.080,0.928)" font-size="27" fill="#000" stroke="#fff" stroke-width="0.15" style="font-family:'Liberation Serif',serif;">30</text>
<text transform="translate(810.33,345.10) scale(1.072,0.928)" font-size="27" fill="#000" stroke="#fff" stroke-width="0.15" style="font-family:'Liberation Serif',serif;">20</text>
<text transform="translate(895.86,345.10) scale(1.148,0.928)" font-size="27" fill="#000" stroke="#fff" stroke-width="0.15" style="font-family:'Liberation Serif',serif;">10</text>
<text transform="translate(991.69,345.10) scale(1.008,0.928)" font-size="27" fill="#000" stroke="#fff" stroke-width="0.15" style="font-family:'Liberation Serif',serif;">0</text>
<text transform="translate(245.90,388.70) scale(1.267,1.032)" font-size="30" fill="#000" stroke="#fff" stroke-width="0.15" style="font-family:'Liberation Serif',serif;font-style:italic;">B</text>
<text transform="translate(282.31,389.58) scale(1.192,1.119)" font-size="30" fill="#000" stroke="#fff" stroke-width="0.15" style="font-family:'Liberation Serif',serif;">(T)</text>
<text transform="translate(740.50,388.70) scale(1.278,1.032)" font-size="30" fill="#000" stroke="#fff" stroke-width="0.15" style="font-family:'Liberation Serif',serif;font-style:italic;">B</text>
<text transform="translate(776.79,389.58) scale(1.206,1.119)" font-size="30" fill="#000" stroke="#fff" stroke-width="0.15" style="font-family:'Liberation Serif',serif;">(T)</text>
<text transform="translate(28.60,226.64) scale(1.116,1.144) rotate(-90)" font-size="29.5" fill="#000" stroke="#fff" stroke-width="0.15" style="font-family:'Liberation Serif',serif;">MR</text>
<text transform="translate(28.21,159.50) scale(1.165,1.105) rotate(-90)" font-size="29.5" fill="#000" stroke="#fff" stroke-width="0.15" style="font-family:'Liberation Serif',serif;">(%)</text>
<text transform="translate(512.20,226.64) scale(1.121,1.144) rotate(-90)" font-size="29.5" fill="#000" stroke="#fff" stroke-width="0.15" style="font-family:'Liberation Serif',serif;">MR</text>
<text transform="translate(511.81,159.50) scale(1.165,1.105) rotate(-90)" font-size="29.5" fill="#000" stroke="#fff" stroke-width="0.15" style="font-family:'Liberation Serif',serif;">(%)</text>
<text transform="translate(648.54,43.50) scale(1.029,0.912)" font-size="25" fill="#000" stroke="#fff" stroke-width="0.15" style="font-family:'Liberation Serif',serif;">Six-modul</text>
<text transform="translate(653.30,69.80) scale(1.014,0.894)" font-size="25" fill="#000" stroke="#fff" stroke-width="0.15" style="font-family:'Liberation Serif',serif;">Two-modul</text>
<text transform="translate(598.70,113.00) scale(1.386,1.057)" font-size="21" fill="#000" stroke="#fff" stroke-width="0.15" style="font-family:'Liberation Serif',serif;font-style:italic;">I</text>
<text transform="translate(611.41,117.00) scale(1.590,1.260)" font-size="21" fill="#000" stroke="#fff" stroke-width="0.15" style="font-family:'Liberation Serif',serif;">=</text>
<text transform="translate(634.07,113.30) scale(1.126,1.079)" font-size="21" fill="#000" stroke="#fff" stroke-width="0.15" style="font-family:'Liberation Serif',serif;">50</text>
<text transform="translate(662.29,113.00) scale(1.113,1.057)" font-size="21" fill="#000" stroke="#fff" stroke-width="0.15" style="font-family:'Liberation Serif',serif;">mA</text>
<text transform="translate(595.25,138.80) scale(1.427,1.007)" font-size="21" fill="#000" stroke="#fff" stroke-width="0.15" style="font-family:'Liberation Serif',serif;font-style:italic;">T</text>
<text transform="translate(615.38,143.00) scale(1.520,1.260)" font-size="21" fill="#000" stroke="#fff" stroke-width="0.15" style="font-family:'Liberation Serif',serif;">=</text>
<text transform="translate(638.29,139.30) scale(1.113,1.043)" font-size="21" fill="#000" stroke="#fff" stroke-width="0.15" style="font-family:'Liberation Serif',serif;">300</text>
<text transform="translate(676.89,138.80) scale(1.114,1.007)" font-size="21" fill="#000" stroke="#fff" stroke-width="0.15" style="font-family:'Liberation Serif',serif;">K</text>
<text transform="translate(361.20,273.20) scale(1.357,1.071)" font-size="21" fill="#000" stroke="#fff" stroke-width="0.15" style="font-family:'Liberation Serif',serif;font-style:italic;">I</text>
<text transform="translate(374.26,277.30) scale(1.540,1.280)" font-size="21" fill="#000" stroke="#fff" stroke-width="0.15" style="font-family:'Liberation Serif',serif;">=</text>
<text transform="translate(396.46,273.50) scale(1.137,1.093)" font-size="21" fill="#000" stroke="#fff" stroke-width="0.15" style="font-family:'Liberation Serif',serif;">20</text>
<text transform="translate(424.38,273.20) scale(1.123,1.071)" font-size="21" fill="#000" stroke="#fff" stroke-width="0.15" style="font-family:'Liberation Serif',serif;">mA</text>
<text transform="translate(292.70,42.80) scale(1.100,0.985)" font-size="19" fill="#808000" stroke="#fff" stroke-width="0.15" style="font-family:'Liberation Serif',serif;">77</text>
<text transform="translate(317.71,42.80) scale(1.192,0.985)" font-size="19" fill="#808000" stroke="#fff" stroke-width="0.15" style="font-family:'Liberation Serif',serif;">K</text>
<text transform="translate(306.87,113.60) scale(1.126,1.031)" font-size="19" fill="#00ff00" stroke="#fff" stroke-width="0.15" style="font-family:'Liberation Serif',serif;">200</text>
<text transform="translate(342.28,113.00) scale(1.217,0.985)" font-size="19" fill="#00ff00" stroke="#fff" stroke-width="0.15" style="font-family:'Liberation Serif',serif;">K</text>
<text transform="translate(418.69,129.30) scale(1.111,1.023)" font-size="19" fill="#000" stroke="#fff" stroke-width="0.15" style="font-family:'Liberation Serif',serif;">300</text>
<text transform="translate(453.75,129.00) scale(1.250,0.985)" font-size="19" fill="#000" stroke="#fff" stroke-width="0.15" style="font-family:'Liberation Serif',serif;">K</text>
<text transform="translate(92.77,256.70) scale(1.126,1.008)" font-size="19" fill="#8000ff" stroke="#fff" stroke-width="0.15" style="font-family:'Liberation Serif',serif;">300</text>
<text transform="translate(127.88,256.40) scale(1.217,0.985)" font-size="19" fill="#8000ff" stroke="#fff" stroke-width="0.15" style="font-family:'Liberation Serif',serif;">K</text>
<text transform="translate(92.79,290.00) scale(1.115,1.008)" font-size="19" fill="#ff8000" stroke="#fff" stroke-width="0.15" style="font-family:'Liberation Serif',serif;">200</text>
<text transform="translate(128.23,290.00) scale(1.167,1.008)" font-size="19" fill="#ff8000" stroke="#fff" stroke-width="0.15" style="font-family:'Liberation Serif',serif;">K</text>
<text transform="translate(182.70,311.70) scale(1.100,1.015)" font-size="19" fill="#ff00ff" stroke="#fff" stroke-width="0.15" style="font-family:'Liberation Serif',serif;">77</text>
<text transform="translate(207.40,311.00) scale(1.200,0.962)" font-size="19" fill="#ff00ff" stroke="#fff" stroke-width="0.15" style="font-family:'Liberation Serif',serif;">K</text>
<text transform="translate(356.70,47.00) scale(1.500,1.057)" font-size="21" fill="#ff0000" stroke="#fff" stroke-width="0.15" style="font-family:'Liberation Serif',serif;font-style:italic;">B</text>
<text transform="translate(373.95,49.80) scale(1.450,1.120)" font-size="15" fill="#ff0000" stroke="#fff" stroke-width="0.15" style="font-family:'Liberation Serif',serif;">th</text>
<text transform="translate(390.64,50.12) scale(1.365,1.192)" font-size="15" fill="#ff0000" stroke="#fff" stroke-width="0.15" style="font-family:'Liberation Serif',serif;">(+)</text>
<text transform="translate(222.45,295.60) scale(1.455,1.050)" font-size="21" fill="#0000ff" stroke="#fff" stroke-width="0.15" style="font-family:'Liberation Serif',serif;font-style:italic;">B</text>
<text transform="translate(239.53,298.40) scale(1.370,1.060)" font-size="15" fill="#0000ff" stroke="#fff" stroke-width="0.15" style="font-family:'Liberation Serif',serif;">th</text>
<text transform="translate(255.98,299.27) scale(1.324,1.177)" font-size="15" fill="#0000ff" stroke="#fff" stroke-width="0.15" style="font-family:'Liberation Serif',serif;">(−)</text>
<rect x="21.00" y="318.73" width="16.90" height="1.15" fill="#000"/>
<rect x="95.30" y="337.53" width="16.90" height="1.15" fill="#000"/>
<rect x="171.90" y="337.53" width="16.80" height="1.15" fill="#000"/>
<rect x="525.20" y="103.21" width="16.80" height="1.15" fill="#000"/>
<rect x="525.20" y="192.04" width="16.80" height="1.15" fill="#000"/>
<rect x="525.20" y="280.88" width="16.80" height="1.15" fill="#000"/>
<rect x="617.20" y="337.32" width="16.70" height="1.15" fill="#000"/>
<rect x="703.95" y="337.32" width="16.70" height="1.15" fill="#000"/>
<rect x="790.70" y="337.32" width="16.70" height="1.15" fill="#000"/>
<rect x="877.45" y="337.32" width="16.70" height="1.15" fill="#000"/>
</svg>
</body></html>
